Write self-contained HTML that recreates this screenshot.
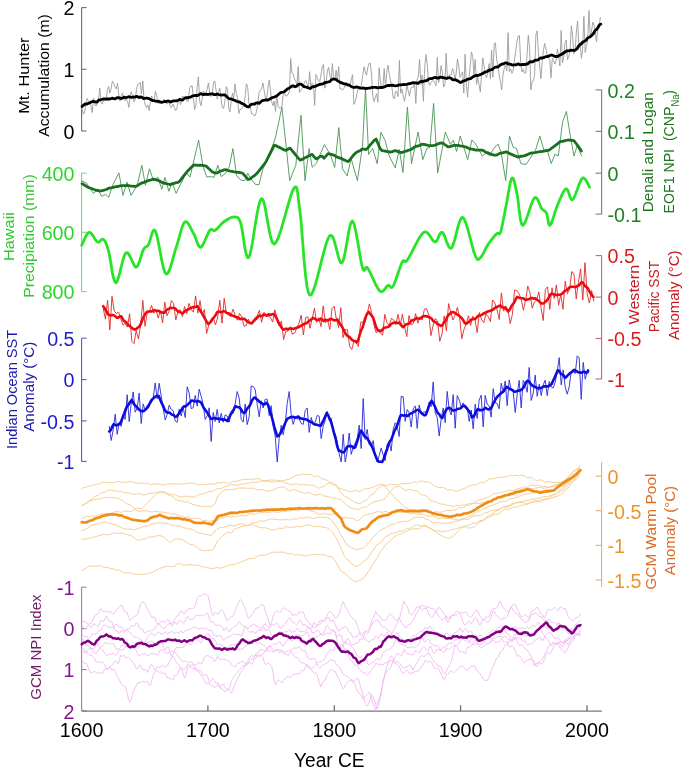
<!DOCTYPE html>
<html><head><meta charset="utf-8"><title>Figure</title>
<style>
html,body{margin:0;padding:0;background:#fff;}
body{width:685px;height:771px;overflow:hidden;position:relative;}
svg{position:absolute;left:0;top:0;display:block;font-family:"Liberation Sans",sans-serif;will-change:transform;}
</style></head><body>
<svg width="685" height="771" viewBox="0 0 685 771"><path d="M81.6 7.6V131" stroke="#6e6e6e" stroke-width="1.1" fill="none"/><path d="M81.6 7.6H86.6" stroke="#6e6e6e" stroke-width="1.1"/><path d="M81.6 69.3H86.6" stroke="#6e6e6e" stroke-width="1.1"/><path d="M81.6 131H86.6" stroke="#6e6e6e" stroke-width="1.1"/><text x="74.5" y="15.4" text-anchor="end" fill="#000000" font-size="19.7">2</text><text x="74.5" y="77.1" text-anchor="end" fill="#000000" font-size="19.7">1</text><text x="74.5" y="138.8" text-anchor="end" fill="#000000" font-size="19.7">0</text><path d="M601.6 89.9V214.1" stroke="#5e8e64" stroke-width="1.1" fill="none"/><path d="M601.6 89.9H595.6" stroke="#5e8e64" stroke-width="1.1"/><path d="M601.6 131.3H595.6" stroke="#5e8e64" stroke-width="1.1"/><path d="M601.6 173.2H595.6" stroke="#5e8e64" stroke-width="1.1"/><path d="M601.6 214.1H595.6" stroke="#5e8e64" stroke-width="1.1"/><text x="607.5" y="97.7" fill="#1e801e" font-size="19.7">0.2</text><text x="607.5" y="139.1" fill="#1e801e" font-size="19.7">0.1</text><text x="607.5" y="181.0" fill="#1e801e" font-size="19.7">0</text><text x="607.5" y="221.9" fill="#1e801e" font-size="19.7">-0.1</text><path d="M81.6 173.1V291.6" stroke="#6fe06f" stroke-width="1.1" fill="none"/><path d="M81.6 173.1H86.6" stroke="#6fe06f" stroke-width="1.1"/><path d="M81.6 232.3H86.6" stroke="#6fe06f" stroke-width="1.1"/><path d="M81.6 291.6H86.6" stroke="#6fe06f" stroke-width="1.1"/><text x="74.5" y="180.9" text-anchor="end" fill="#2ad62a" font-size="19.7">400</text><text x="74.5" y="240.1" text-anchor="end" fill="#2ad62a" font-size="19.7">600</text><text x="74.5" y="299.4" text-anchor="end" fill="#2ad62a" font-size="19.7">800</text><path d="M601.6 255.6V379" stroke="#c86470" stroke-width="1.1" fill="none"/><path d="M601.6 255.6H595.6" stroke="#c86470" stroke-width="1.1"/><path d="M601.6 297.1H595.6" stroke="#c86470" stroke-width="1.1"/><path d="M601.6 338.5H595.6" stroke="#c86470" stroke-width="1.1"/><path d="M601.6 379H595.6" stroke="#c86470" stroke-width="1.1"/><text x="607.5" y="263.4" fill="#dd1a1a" font-size="19.7">0.5</text><text x="607.5" y="304.9" fill="#dd1a1a" font-size="19.7">0</text><text x="607.5" y="346.3" fill="#dd1a1a" font-size="19.7">-0.5</text><text x="607.5" y="386.8" fill="#dd1a1a" font-size="19.7">-1</text><path d="M81.6 338.2V461.4" stroke="#5a5ac8" stroke-width="1.1" fill="none"/><path d="M81.6 338.2H86.6" stroke="#5a5ac8" stroke-width="1.1"/><path d="M81.6 379.6H86.6" stroke="#5a5ac8" stroke-width="1.1"/><path d="M81.6 420.9H86.6" stroke="#5a5ac8" stroke-width="1.1"/><path d="M81.6 461.4H86.6" stroke="#5a5ac8" stroke-width="1.1"/><text x="74.5" y="346.0" text-anchor="end" fill="#1c1cc8" font-size="19.7">0.5</text><text x="74.5" y="387.4" text-anchor="end" fill="#1c1cc8" font-size="19.7">0</text><text x="74.5" y="428.7" text-anchor="end" fill="#1c1cc8" font-size="19.7">-0.5</text><text x="74.5" y="469.2" text-anchor="end" fill="#1c1cc8" font-size="19.7">-1</text><path d="M601.6 462.2V587" stroke="#dcb27a" stroke-width="1.1" fill="none"/><path d="M601.6 476.2H595.6" stroke="#dcb27a" stroke-width="1.1"/><path d="M601.6 510.7H595.6" stroke="#dcb27a" stroke-width="1.1"/><path d="M601.6 545.4H595.6" stroke="#dcb27a" stroke-width="1.1"/><path d="M601.6 580H595.6" stroke="#dcb27a" stroke-width="1.1"/><text x="607.5" y="484.0" fill="#ee9428" font-size="19.7">0</text><text x="607.5" y="518.5" fill="#ee9428" font-size="19.7">-0.5</text><text x="607.5" y="553.2" fill="#ee9428" font-size="19.7">-1</text><text x="607.5" y="587.8" fill="#ee9428" font-size="19.7">-1.5</text><path d="M81.6 587.2V710.8" stroke="#a878a8" stroke-width="1.1" fill="none"/><path d="M81.6 587.2H86.6" stroke="#a878a8" stroke-width="1.1"/><path d="M81.6 628.6H86.6" stroke="#a878a8" stroke-width="1.1"/><path d="M81.6 669.6H86.6" stroke="#a878a8" stroke-width="1.1"/><path d="M81.6 710.8H86.6" stroke="#a878a8" stroke-width="1.1"/><text x="74.5" y="595.0" text-anchor="end" fill="#84148c" font-size="19.7">-1</text><text x="74.5" y="636.4" text-anchor="end" fill="#84148c" font-size="19.7">0</text><text x="74.5" y="677.4" text-anchor="end" fill="#84148c" font-size="19.7">1</text><text x="74.5" y="718.6" text-anchor="end" fill="#84148c" font-size="19.7">2</text><path d="M81.6 711.1H601.8" stroke="#777" stroke-width="1.3"/><text x="81.6" y="736.9" text-anchor="middle" fill="#000" font-size="19.7">1600</text><path d="M207.9 711H207.9" stroke="#707070"/><path d="M207.9 711V705.3" stroke="#707070" stroke-width="1.3"/><text x="207.9" y="736.9" text-anchor="middle" fill="#000" font-size="19.7">1700</text><path d="M334.3 711H334.3" stroke="#707070"/><path d="M334.3 711V705.3" stroke="#707070" stroke-width="1.3"/><text x="334.3" y="736.9" text-anchor="middle" fill="#000" font-size="19.7">1800</text><path d="M460.6 711H460.6" stroke="#707070"/><path d="M460.6 711V705.3" stroke="#707070" stroke-width="1.3"/><text x="460.6" y="736.9" text-anchor="middle" fill="#000" font-size="19.7">1900</text><path d="M587.0 711H587.0" stroke="#707070"/><path d="M587.0 711V705.3" stroke="#707070" stroke-width="1.3"/><text x="587.0" y="736.9" text-anchor="middle" fill="#000" font-size="19.7">2000</text><text x="329.35" y="766.6" text-anchor="middle" fill="#000" font-size="20" textLength="70.5" lengthAdjust="spacingAndGlyphs">Year CE</text><path d="M81.8 621.3L83.1 621.5L84.4 621.2L85.7 621.9L87.0 623.4L88.3 624.0L89.6 623.9L90.9 623.1L92.2 621.2L93.5 618.4L94.8 615.9L96.1 614.7L97.4 614.4L98.7 612.3L100.0 609.3L101.3 609.1L102.6 611.3L103.9 611.9L105.2 611.2L106.5 611.0L107.8 612.2L109.1 611.9L110.4 611.1L111.7 613.2L113.0 614.1L114.3 612.9L115.6 611.3L116.9 609.2L118.2 608.2L119.5 607.2L120.8 605.2L122.1 605.3L123.4 609.3L124.7 612.0L126.0 611.9L127.3 612.8L128.6 617.5L129.9 620.5L131.2 619.3L132.5 617.7L133.8 617.1L135.1 616.1L136.4 615.5L137.7 615.0L139.0 609.7L140.3 604.1L141.6 602.6L142.9 601.8L144.2 602.5L145.5 604.2L146.8 608.1L148.1 610.4L149.4 611.5L150.7 614.9L152.0 617.7L153.3 616.7L154.6 617.1L155.9 620.9L157.2 623.3L158.5 623.6L159.8 624.7L161.1 626.8L162.4 627.9L163.7 628.6L165.0 628.2L166.3 625.8L167.6 624.4L168.9 624.0L170.2 623.3L171.5 623.3L172.8 622.4L174.1 620.1L175.4 617.7L176.7 616.7L178.0 616.0L179.3 613.6L180.6 611.2L181.9 611.3L183.2 613.6L184.5 613.7L185.8 611.7L187.1 609.9L188.4 609.0L189.7 608.8L191.0 608.4L192.3 608.0L193.6 608.6L194.9 606.9L196.2 601.8L197.5 597.3L198.8 595.9L200.1 596.2L201.4 595.9L202.7 594.4L204.0 593.9L205.3 594.0L206.6 594.8L207.9 595.4L209.2 601.0L210.5 607.4L211.8 613.2L213.1 615.5L214.4 613.3L215.7 612.0L217.0 613.7L218.3 614.4L219.6 611.6L220.9 609.7L222.2 610.5L223.5 612.1L224.8 615.3L226.1 619.1L227.4 621.0L228.7 619.4L230.0 617.5L231.3 616.9L232.6 616.6L233.9 614.2L235.2 610.5L236.5 607.3L237.8 604.2L239.1 600.9L240.4 599.5L241.7 601.1L243.0 603.9L244.3 606.0L245.6 609.8L246.9 614.6L248.2 618.3L249.5 618.0L250.8 615.8L252.1 614.0L253.4 612.7L254.7 610.3L256.0 607.9L257.3 608.2L258.6 607.7L259.9 606.1L261.2 604.8L262.5 604.7L263.8 605.2L265.1 610.6L266.4 614.7L267.7 617.3L269.0 622.0L270.3 625.6L271.6 622.2L272.9 616.7L274.2 613.8L275.5 611.7L276.8 610.3L278.1 611.4L279.4 612.6L280.7 612.0L282.0 609.5L283.3 608.0L284.6 608.0L285.9 608.9L287.2 610.0L288.5 611.0L289.8 611.0L291.1 612.2L292.4 615.5L293.7 615.4L295.0 614.3L296.3 615.0L297.6 614.8L298.9 612.2L300.2 611.9L301.5 612.7L302.8 611.8L304.1 614.1L305.4 618.3L306.7 620.4L308.0 621.1L309.3 622.7L310.6 624.9L311.9 626.1L313.2 626.7L314.5 628.0L315.8 627.2L317.1 625.0L318.4 625.0L319.7 624.8L321.0 623.2L322.3 621.3L323.6 619.4L324.9 619.0L326.2 617.5L327.5 614.1L328.8 612.2L330.1 611.5L331.4 613.0L332.7 614.4L334.0 615.4L335.3 617.9L336.6 618.1L337.9 616.4L339.2 613.8L340.5 609.7L341.8 604.6L343.1 601.5L344.4 604.5L345.7 607.3L347.0 609.2L348.3 611.5L349.6 614.6L350.9 616.0L352.2 617.2L353.5 619.0L354.8 620.3L356.1 622.4L357.4 625.6L358.7 629.7L360.0 634.3L361.3 636.0L362.6 635.8L363.9 637.4L365.2 639.8L366.5 639.9L367.8 641.1L369.1 642.0L370.4 641.4L371.7 639.7L373.0 639.5L374.3 638.7L375.6 636.3L376.9 636.6L378.2 638.1L379.5 636.2L380.8 634.2L382.1 634.6L383.4 635.7L384.7 635.5L386.0 633.7L387.3 632.2L388.6 634.1L389.9 637.1L391.2 636.1L392.5 632.1L393.8 630.1L395.1 627.7L396.4 624.7L397.7 623.0L399.0 619.7L400.3 615.4L401.6 610.6L402.9 604.4L404.2 600.8L405.5 604.2L406.8 605.8L408.1 608.8L409.4 613.3L410.7 614.7L412.0 614.9L413.3 613.4L414.6 611.2L415.9 608.7L417.2 606.3L418.5 607.0L419.8 606.8L421.1 605.4L422.4 605.6L423.7 606.3L425.0 606.2L426.3 607.9L427.6 611.0L428.9 613.8L430.2 616.3L431.5 617.8L432.8 616.9L434.1 613.9L435.4 613.2L436.7 610.7L438.0 608.0L439.3 607.6L440.6 608.9L441.9 611.0L443.2 612.4L444.5 614.3L445.8 617.7L447.1 621.7L448.4 622.3L449.7 620.1L451.0 617.2L452.3 615.5L453.6 614.9L454.9 615.3L456.2 615.5L457.5 614.0L458.8 613.0L460.1 612.4L461.4 612.3L462.7 612.9L464.0 612.7L465.3 611.7L466.6 613.2L467.9 615.3L469.2 616.5L470.5 617.5L471.8 616.4L473.1 614.3L474.4 612.5L475.7 610.2L477.0 610.1L478.3 612.3L479.6 615.4L480.9 617.1L482.2 618.7L483.5 620.4L484.8 618.2L486.1 616.6L487.4 617.5L488.7 617.5L490.0 613.8L491.3 610.1L492.6 609.1L493.9 608.6L495.2 608.2L496.5 608.1L497.8 606.5L499.1 601.9L500.4 601.4L501.7 604.3L503.0 607.3L504.3 609.0L505.6 610.3L506.9 611.2L508.2 612.1L509.5 610.7L510.8 607.1L512.1 605.6L513.4 605.1L514.7 604.5L516.0 605.9L517.3 609.1L518.6 611.3L519.9 614.2L521.2 616.9L522.5 616.4L523.8 615.4L525.1 614.5L526.4 615.1L527.7 617.5L529.0 618.3L530.3 614.6L531.6 611.8L532.9 610.9L534.2 610.0L535.5 608.6L536.8 607.1L538.1 608.1L539.4 610.8L540.7 613.5L542.0 614.1L543.3 616.2L544.6 618.2L545.9 614.9L547.2 610.9L548.5 609.2L549.8 609.4L551.1 610.4L552.4 609.8L553.7 607.9L555.0 607.3L556.3 608.8L557.6 610.7L558.9 609.8L560.2 607.1L561.5 607.1L562.8 608.7L564.1 608.8L565.4 608.6L566.7 612.2L568.0 616.5L569.3 618.2L570.6 618.8L571.9 620.5L573.2 620.6L574.5 619.4L575.8 618.0L577.1 617.4L578.4 617.1L579.7 615.1L580.2 613.7" fill="none" stroke="#f2b8f2" stroke-width="0.9" stroke-linejoin="round" stroke-linecap="round"/><path d="M81.8 627.4L83.1 627.1L84.4 628.5L85.7 629.1L87.0 627.0L88.3 624.8L89.6 626.1L90.9 627.8L92.2 626.0L93.5 623.7L94.8 624.3L96.1 625.4L97.4 626.4L98.7 625.9L100.0 622.4L101.3 620.3L102.6 621.5L103.9 621.0L105.2 618.4L106.5 615.9L107.8 618.4L109.1 621.2L110.4 621.4L111.7 621.9L113.0 625.4L114.3 629.4L115.6 630.9L116.9 630.5L118.2 632.7L119.5 633.6L120.8 631.0L122.1 630.2L123.4 632.1L124.7 632.1L126.0 630.1L127.3 628.9L128.6 629.4L129.9 628.0L131.2 625.8L132.5 625.6L133.8 626.7L135.1 624.6L136.4 622.6L137.7 623.4L139.0 627.4L140.3 629.2L141.6 628.8L142.9 629.6L144.2 632.6L145.5 633.3L146.8 631.6L148.1 631.0L149.4 631.6L150.7 630.7L152.0 630.2L153.3 630.2L154.6 628.8L155.9 626.8L157.2 625.0L158.5 624.3L159.8 623.2L161.1 621.4L162.4 620.8L163.7 621.7L165.0 622.6L166.3 620.9L167.6 619.3L168.9 620.2L170.2 622.9L171.5 625.9L172.8 625.5L174.1 622.3L175.4 622.3L176.7 624.6L178.0 622.9L179.3 620.5L180.6 620.6L181.9 621.7L183.2 623.2L184.5 622.3L185.8 619.2L187.1 616.8L188.4 617.1L189.7 619.4L191.0 619.7L192.3 619.1L193.6 619.0L194.9 616.8L196.2 615.2L197.5 615.7L198.8 615.8L200.1 615.0L201.4 615.2L202.7 616.1L204.0 615.7L205.3 614.1L206.6 613.1L207.9 614.2L209.2 618.2L210.5 621.5L211.8 622.2L213.1 622.2L214.4 623.8L215.7 625.4L217.0 625.3L218.3 624.8L219.6 625.5L220.9 625.8L222.2 626.8L223.5 630.6L224.8 630.1L226.1 627.1L227.4 628.3L228.7 631.7L230.0 631.5L231.3 628.7L232.6 628.1L233.9 627.3L235.2 625.8L236.5 625.3L237.8 623.9L239.1 621.9L240.4 622.8L241.7 625.2L243.0 626.6L244.3 626.1L245.6 626.3L246.9 628.0L248.2 628.0L249.5 626.8L250.8 626.1L252.1 625.6L253.4 624.0L254.7 624.4L256.0 626.3L257.3 626.0L258.6 626.9L259.9 628.4L261.2 627.9L262.5 626.7L263.8 624.9L265.1 624.2L266.4 625.2L267.7 626.3L269.0 627.3L270.3 627.2L271.6 624.9L272.9 624.7L274.2 625.1L275.5 623.9L276.8 623.0L278.1 624.8L279.4 627.3L280.7 628.6L282.0 627.0L283.3 625.4L284.6 624.3L285.9 623.1L287.2 620.9L288.5 618.4L289.8 617.5L291.1 619.9L292.4 622.2L293.7 622.2L295.0 623.4L296.3 624.9L297.6 623.6L298.9 620.8L300.2 619.9L301.5 622.8L302.8 625.4L304.1 624.7L305.4 624.8L306.7 626.6L308.0 627.1L309.3 627.8L310.6 628.8L311.9 628.2L313.2 623.9L314.5 622.2L315.8 624.8L317.1 626.2L318.4 623.7L319.7 620.9L321.0 620.4L322.3 621.3L323.6 621.2L324.9 621.0L326.2 619.7L327.5 617.8L328.8 617.5L330.1 620.6L331.4 622.0L332.7 619.8L334.0 620.7L335.3 624.5L336.6 627.9L337.9 630.9L339.2 630.9L340.5 628.7L341.8 628.1L343.1 628.3L344.4 626.9L345.7 626.3L347.0 627.8L348.3 631.0L349.6 632.7L350.9 633.1L352.2 636.0L353.5 638.0L354.8 637.1L356.1 636.4L357.4 636.2L358.7 634.4L360.0 632.6L361.3 633.6L362.6 634.2L363.9 632.2L365.2 631.3L366.5 632.4L367.8 633.5L369.1 630.9L370.4 624.9L371.7 620.0L373.0 618.4L374.3 615.3L375.6 611.2L376.9 614.2L378.2 615.6L379.5 615.7L380.8 617.6L382.1 619.8L383.4 620.4L384.7 620.1L386.0 619.8L387.3 618.1L388.6 615.4L389.9 613.9L391.2 614.7L392.5 616.2L393.8 617.0L395.1 619.1L396.4 620.8L397.7 618.7L399.0 617.4L400.3 620.2L401.6 623.4L402.9 624.5L404.2 625.7L405.5 627.9L406.8 627.2L408.1 624.6L409.4 624.1L410.7 623.9L412.0 621.6L413.3 620.3L414.6 617.7L415.9 614.2L417.2 613.1L418.5 610.2L419.8 607.0L421.1 608.7L422.4 610.3L423.7 608.7L425.0 608.5L426.3 608.2L427.6 606.8L428.9 606.9L430.2 608.3L431.5 608.4L432.8 608.8L434.1 609.4L435.4 610.6L436.7 613.3L438.0 615.5L439.3 616.9L440.6 618.4L441.9 619.8L443.2 619.9L444.5 618.5L445.8 616.5L447.1 616.7L448.4 618.8L449.7 618.5L451.0 615.8L452.3 615.3L453.6 614.9L454.9 613.0L456.2 611.4L457.5 611.2L458.8 612.4L460.1 613.3L461.4 616.9L462.7 621.1L464.0 624.5L465.3 624.9L466.6 623.7L467.9 622.0L469.2 621.5L470.5 623.2L471.8 623.3L473.1 621.0L474.4 618.6L475.7 617.7L477.0 618.7L478.3 622.4L479.6 625.2L480.9 623.9L482.2 620.7L483.5 619.6L484.8 619.7L486.1 621.2L487.4 622.8L488.7 622.0L490.0 619.9L491.3 616.7L492.6 611.7L493.9 610.8L495.2 613.7L496.5 615.8L497.8 616.7L499.1 618.4L500.4 619.7L501.7 619.4L503.0 618.1L504.3 618.3L505.6 617.9L506.9 616.5L508.2 614.4L509.5 610.5L510.8 607.7L512.1 608.0L513.4 610.9L514.7 612.7L516.0 613.6L517.3 613.4L518.6 614.8L519.9 617.5L521.2 618.7L522.5 619.4L523.8 622.1L525.1 622.9L526.4 621.5L527.7 621.2L529.0 620.2L530.3 615.9L531.6 614.4L532.9 614.9L534.2 613.0L535.5 612.7L536.8 613.7L538.1 615.1L539.4 616.8L540.7 616.7L542.0 616.8L543.3 619.5L544.6 620.7L545.9 620.8L547.2 620.9L548.5 619.6L549.8 619.4L551.1 621.6L552.4 623.2L553.7 622.1L555.0 622.7L556.3 624.2L557.6 623.8L558.9 623.4L560.2 624.9L561.5 626.6L562.8 628.2L564.1 628.5L565.4 627.4L566.7 628.3L568.0 631.2L569.3 631.2L570.6 629.0L571.9 628.2L573.2 627.1L574.5 625.6L575.8 624.6L577.1 623.1L578.4 621.8L579.7 620.9L580.2 620.5" fill="none" stroke="#f2b8f2" stroke-width="0.9" stroke-linejoin="round" stroke-linecap="round"/><path d="M81.8 646.7L83.1 648.4L84.4 649.9L85.7 651.1L87.0 653.0L88.3 654.5L89.6 655.3L90.9 655.1L92.2 655.8L93.5 657.6L94.8 659.6L96.1 662.1L97.4 662.4L98.7 661.5L100.0 662.5L101.3 662.4L102.6 661.7L103.9 663.5L105.2 665.9L106.5 669.1L107.8 669.7L109.1 667.1L110.4 667.4L111.7 669.8L113.0 669.6L114.3 669.7L115.6 672.3L116.9 675.6L118.2 677.8L119.5 680.2L120.8 683.1L122.1 685.3L123.4 685.9L124.7 685.9L126.0 688.1L127.3 694.2L128.6 699.4L129.9 702.2L131.2 699.2L132.5 694.3L133.8 691.0L135.1 687.9L136.4 685.2L137.7 683.1L139.0 682.4L140.3 682.7L141.6 681.9L142.9 681.0L144.2 682.3L145.5 682.3L146.8 681.1L148.1 682.3L149.4 685.3L150.7 684.6L152.0 679.4L153.3 675.6L154.6 672.9L155.9 669.1L157.2 666.4L158.5 666.9L159.8 667.7L161.1 666.6L162.4 665.5L163.7 666.1L165.0 667.0L166.3 667.0L167.6 665.6L168.9 662.8L170.2 660.8L171.5 658.1L172.8 654.4L174.1 651.4L175.4 649.2L176.7 647.3L178.0 647.7L179.3 647.7L180.6 647.3L181.9 647.3L183.2 647.2L184.5 646.5L185.8 644.6L187.1 642.6L188.4 643.2L189.7 645.0L191.0 644.7L192.3 643.2L193.6 640.9L194.9 638.9L196.2 639.1L197.5 639.7L198.8 640.6L200.1 642.5L201.4 642.6L202.7 639.4L204.0 636.4L205.3 635.2L206.6 634.3L207.9 633.1L209.2 635.0L210.5 636.9L211.8 638.4L213.1 638.8L214.4 639.1L215.7 641.2L217.0 644.3L218.3 644.5L219.6 643.9L220.9 645.2L222.2 645.9L223.5 645.8L224.8 646.9L226.1 647.4L227.4 647.7L228.7 647.5L230.0 645.8L231.3 644.9L232.6 645.2L233.9 644.5L235.2 644.5L236.5 645.5L237.8 647.9L239.1 650.1L240.4 649.8L241.7 648.9L243.0 648.7L244.3 646.4L245.6 646.3L246.9 645.4L248.2 642.8L249.5 642.8L250.8 642.3L252.1 640.4L253.4 640.2L254.7 640.6L256.0 641.8L257.3 643.3L258.6 642.9L259.9 642.6L261.2 644.0L262.5 644.9L263.8 645.3L265.1 646.3L266.4 647.6L267.7 650.7L269.0 651.6L270.3 650.3L271.6 651.4L272.9 652.0L274.2 651.6L275.5 650.6L276.8 649.6L278.1 650.8L279.4 652.7L280.7 652.2L282.0 650.4L283.3 651.5L284.6 652.7L285.9 651.5L287.2 651.4L288.5 651.2L289.8 650.0L291.1 650.2L292.4 649.3L293.7 647.9L295.0 648.1L296.3 648.4L297.6 647.6L298.9 646.8L300.2 647.3L301.5 650.0L302.8 651.3L304.1 650.5L305.4 651.0L306.7 654.1L308.0 658.0L309.3 659.4L310.6 658.9L311.9 659.2L313.2 658.8L314.5 658.1L315.8 661.0L317.1 664.4L318.4 666.7L319.7 668.2L321.0 666.9L322.3 665.2L323.6 664.6L324.9 664.0L326.2 663.5L327.5 662.8L328.8 661.2L330.1 660.0L331.4 660.0L332.7 660.4L334.0 660.3L335.3 661.9L336.6 665.2L337.9 665.7L339.2 666.6L340.5 669.2L341.8 671.9L343.1 674.3L344.4 674.9L345.7 675.4L347.0 676.6L348.3 677.0L349.6 678.6L350.9 679.8L352.2 679.7L353.5 681.7L354.8 684.7L356.1 687.6L357.4 691.0L358.7 693.1L360.0 694.0L361.3 695.8L362.6 698.5L363.9 698.7L365.2 696.3L366.5 695.2L367.8 694.1L369.1 692.3L370.4 693.2L371.7 698.3L373.0 703.5L374.3 706.9L375.6 710.5L376.9 705.4L378.2 700.7L379.5 698.0L380.8 694.0L382.1 687.4L383.4 681.4L384.7 675.1L386.0 669.5L387.3 665.2L388.6 661.4L389.9 657.5L391.2 655.8L392.5 657.6L393.8 660.1L395.1 662.0L396.4 661.6L397.7 661.8L399.0 662.4L400.3 663.7L401.6 665.9L402.9 668.0L404.2 668.2L405.5 667.3L406.8 666.7L408.1 666.0L409.4 664.6L410.7 665.6L412.0 668.9L413.3 670.0L414.6 666.5L415.9 664.5L417.2 663.0L418.5 660.3L419.8 657.8L421.1 655.8L422.4 655.8L423.7 656.5L425.0 656.0L426.3 654.9L427.6 653.3L428.9 652.6L430.2 655.4L431.5 657.8L432.8 659.6L434.1 661.8L435.4 662.9L436.7 664.3L438.0 666.4L439.3 666.3L440.6 666.6L441.9 669.5L443.2 672.6L444.5 674.0L445.8 672.1L447.1 669.0L448.4 666.9L449.7 664.6L451.0 662.2L452.3 657.4L453.6 651.4L454.9 645.7L456.2 646.3L457.5 647.7L458.8 650.2L460.1 652.2L461.4 652.0L462.7 651.1L464.0 653.0L465.3 653.2L466.6 649.4L467.9 647.0L469.2 647.1L470.5 646.3L471.8 645.0L473.1 644.1L474.4 641.0L475.7 639.7L477.0 642.8L478.3 645.5L479.6 647.0L480.9 648.2L482.2 647.2L483.5 646.7L484.8 645.8L486.1 644.4L487.4 643.5L488.7 643.5L490.0 643.1L491.3 641.8L492.6 639.9L493.9 640.4L495.2 642.3L496.5 642.4L497.8 641.9L499.1 642.0L500.4 640.7L501.7 638.7L503.0 640.4L504.3 642.7L505.6 641.5L506.9 641.9L508.2 645.0L509.5 647.0L510.8 646.9L512.1 645.7L513.4 647.0L514.7 649.5L516.0 652.4L517.3 655.6L518.6 656.1L519.9 655.8L521.2 657.7L522.5 660.7L523.8 662.8L525.1 662.3L526.4 660.4L527.7 660.2L529.0 659.6L530.3 659.1L531.6 660.2L532.9 660.4L534.2 661.3L535.5 665.5L536.8 666.8L538.1 663.5L539.4 661.9L540.7 660.6L542.0 659.5L543.3 657.5L544.6 654.6L545.9 652.2L547.2 649.2L548.5 646.2L549.8 645.4L551.1 644.6L552.4 643.0L553.7 641.9L555.0 643.7L556.3 643.2L557.6 642.3L558.9 642.8L560.2 644.0L561.5 646.0L562.8 646.6L564.1 645.0L565.4 641.8L566.7 639.1L568.0 637.9L569.3 637.9L570.6 638.8L571.9 638.9L573.2 637.6L574.5 635.1L575.8 633.3L577.1 633.8L578.4 635.3L579.7 635.8L580.2 634.5" fill="none" stroke="#f2b8f2" stroke-width="0.9" stroke-linejoin="round" stroke-linecap="round"/><path d="M81.8 660.5L83.1 661.8L84.4 663.4L85.7 663.4L87.0 664.3L88.3 668.2L89.6 671.6L90.9 672.8L92.2 672.8L93.5 671.8L94.8 671.4L96.1 672.8L97.4 673.6L98.7 672.9L100.0 672.3L101.3 673.2L102.6 673.6L103.9 671.0L105.2 668.7L106.5 668.5L107.8 669.4L109.1 668.1L110.4 666.1L111.7 665.4L113.0 663.7L114.3 661.6L115.6 660.8L116.9 662.9L118.2 664.0L119.5 658.8L120.8 655.2L122.1 656.6L123.4 655.7L124.7 655.6L126.0 657.7L127.3 657.5L128.6 657.3L129.9 658.9L131.2 660.6L132.5 662.3L133.8 663.4L135.1 665.4L136.4 669.0L137.7 668.5L139.0 665.3L140.3 665.4L141.6 668.4L142.9 670.0L144.2 669.7L145.5 669.5L146.8 671.7L148.1 671.8L149.4 668.0L150.7 665.1L152.0 664.7L153.3 666.4L154.6 669.2L155.9 670.6L157.2 670.7L158.5 672.2L159.8 672.0L161.1 671.7L162.4 673.6L163.7 673.5L165.0 672.9L166.3 676.0L167.6 678.1L168.9 678.1L170.2 678.3L171.5 679.1L172.8 680.4L174.1 677.2L175.4 675.1L176.7 675.7L178.0 673.6L179.3 669.6L180.6 667.4L181.9 668.4L183.2 669.1L184.5 669.0L185.8 667.7L187.1 665.1L188.4 664.0L189.7 665.2L191.0 665.6L192.3 664.8L193.6 665.1L194.9 667.4L196.2 670.6L197.5 671.3L198.8 671.3L200.1 673.6L201.4 675.9L202.7 677.7L204.0 679.8L205.3 682.2L206.6 683.9L207.9 683.5L209.2 683.1L210.5 685.3L211.8 686.0L213.1 686.0L214.4 687.6L215.7 687.0L217.0 685.1L218.3 685.6L219.6 687.4L220.9 686.3L222.2 684.3L223.5 684.2L224.8 686.9L226.1 689.1L227.4 689.7L228.7 689.2L230.0 690.4L231.3 693.2L232.6 691.3L233.9 686.8L235.2 683.7L236.5 680.8L237.8 678.3L239.1 675.8L240.4 672.3L241.7 671.0L243.0 670.3L244.3 667.4L245.6 664.3L246.9 662.6L248.2 660.5L249.5 657.9L250.8 656.0L252.1 655.8L253.4 656.4L254.7 655.2L256.0 655.2L257.3 655.6L258.6 655.2L259.9 655.1L261.2 655.0L262.5 656.4L263.8 661.0L265.1 664.2L266.4 664.3L267.7 663.2L269.0 663.2L270.3 665.0L271.6 666.2L272.9 671.7L274.2 680.1L275.5 685.0L276.8 681.7L278.1 679.9L279.4 680.2L280.7 681.8L282.0 683.0L283.3 680.8L284.6 678.6L285.9 678.2L287.2 676.8L288.5 676.5L289.8 677.9L291.1 676.8L292.4 674.7L293.7 674.4L295.0 674.3L296.3 673.6L297.6 673.8L298.9 674.2L300.2 672.8L301.5 670.7L302.8 670.8L304.1 670.4L305.4 666.5L306.7 664.4L308.0 665.3L309.3 668.1L310.6 669.3L311.9 670.2L313.2 672.3L314.5 673.1L315.8 672.8L317.1 675.0L318.4 679.1L319.7 683.9L321.0 686.7L322.3 682.7L323.6 681.2L324.9 680.8L326.2 677.2L327.5 674.4L328.8 672.8L330.1 670.3L331.4 669.0L332.7 670.3L334.0 671.8L335.3 671.6L336.6 674.5L337.9 677.7L339.2 679.6L340.5 682.8L341.8 686.3L343.1 688.7L344.4 687.5L345.7 684.6L347.0 682.6L348.3 681.8L349.6 680.6L350.9 680.1L352.2 681.7L353.5 681.9L354.8 680.9L356.1 679.0L357.4 678.0L358.7 679.0L360.0 684.9L361.3 689.7L362.6 693.7L363.9 698.9L365.2 704.3L366.5 706.5L367.8 704.8L369.1 702.5L370.4 699.1L371.7 694.7L373.0 696.6L374.3 699.8L375.6 704.2L376.9 708.9L378.2 706.8L379.5 701.0L380.8 695.1L382.1 687.4L383.4 679.3L384.7 675.3L386.0 672.3L387.3 670.3L388.6 669.4L389.9 668.6L391.2 666.1L392.5 662.7L393.8 659.3L395.1 657.4L396.4 655.0L397.7 653.3L399.0 654.0L400.3 655.6L401.6 655.4L402.9 652.2L404.2 649.4L405.5 651.5L406.8 653.6L408.1 654.0L409.4 654.2L410.7 654.5L412.0 654.7L413.3 654.6L414.6 652.6L415.9 650.2L417.2 651.6L418.5 653.0L419.8 652.0L421.1 649.9L422.4 647.2L423.7 646.3L425.0 647.6L426.3 649.8L427.6 651.0L428.9 648.5L430.2 646.0L431.5 648.2L432.8 651.6L434.1 653.4L435.4 652.2L436.7 649.8L438.0 649.3L439.3 650.4L440.6 650.3L441.9 648.8L443.2 647.1L444.5 646.5L445.8 647.2L447.1 645.8L448.4 643.3L449.7 643.0L451.0 643.4L452.3 642.6L453.6 641.6L454.9 640.0L456.2 639.6L457.5 639.3L458.8 638.0L460.1 636.9L461.4 637.6L462.7 638.7L464.0 640.2L465.3 640.2L466.6 641.1L467.9 642.6L469.2 641.9L470.5 640.0L471.8 638.7L473.1 637.2L474.4 636.0L475.7 638.6L477.0 640.8L478.3 639.5L479.6 638.6L480.9 640.7L482.2 642.6L483.5 642.4L484.8 639.8L486.1 638.8L487.4 638.8L488.7 636.9L490.0 634.6L491.3 634.6L492.6 635.1L493.9 634.1L495.2 633.2L496.5 632.1L497.8 630.8L499.1 632.6L500.4 634.6L501.7 631.8L503.0 628.8L504.3 629.4L505.6 632.5L506.9 633.3L508.2 633.7L509.5 635.2L510.8 639.5L512.1 641.1L513.4 636.7L514.7 634.4L516.0 634.8L517.3 634.3L518.6 634.8L519.9 634.0L521.2 631.6L522.5 631.0L523.8 632.4L525.1 635.3L526.4 636.6L527.7 634.8L529.0 634.3L530.3 634.7L531.6 634.0L532.9 633.7L534.2 632.9L535.5 632.3L536.8 632.1L538.1 629.7L539.4 627.7L540.7 629.3L542.0 632.6L543.3 634.7L544.6 636.2L545.9 637.8L547.2 638.7L548.5 640.0L549.8 643.5L551.1 645.5L552.4 644.6L553.7 643.4L555.0 643.7L556.3 643.8L557.6 643.8L558.9 645.7L560.2 647.9L561.5 649.0L562.8 650.6L564.1 652.4L565.4 652.5L566.7 650.2L568.0 648.1L569.3 645.0L570.6 642.9L571.9 641.8L573.2 640.2L574.5 637.9L575.8 636.1L577.1 634.7L578.4 633.1L579.7 632.5L580.2 633.6" fill="none" stroke="#f2b8f2" stroke-width="0.9" stroke-linejoin="round" stroke-linecap="round"/><path d="M81.8 650.0L83.1 650.8L84.4 653.1L85.7 652.7L87.0 650.9L88.3 649.9L89.6 648.7L90.9 648.4L92.2 648.7L93.5 649.0L94.8 647.6L96.1 644.2L97.4 643.4L98.7 646.0L100.0 647.9L101.3 648.8L102.6 650.1L103.9 652.1L105.2 653.5L106.5 655.8L107.8 655.6L109.1 654.2L110.4 654.5L111.7 654.0L113.0 652.9L114.3 654.0L115.6 655.2L116.9 654.3L118.2 651.9L119.5 649.8L120.8 649.6L122.1 650.3L123.4 649.5L124.7 647.8L126.0 646.5L127.3 645.8L128.6 646.3L129.9 647.3L131.2 647.1L132.5 647.0L133.8 647.9L135.1 648.6L136.4 650.5L137.7 654.4L139.0 656.4L140.3 655.1L141.6 654.1L142.9 654.3L144.2 653.9L145.5 653.4L146.8 655.0L148.1 656.1L149.4 654.6L150.7 653.8L152.0 653.4L153.3 653.3L154.6 653.9L155.9 654.6L157.2 654.7L158.5 653.3L159.8 651.0L161.1 649.6L162.4 650.0L163.7 651.3L165.0 652.7L166.3 653.4L167.6 652.9L168.9 652.4L170.2 651.5L171.5 650.5L172.8 651.6L174.1 652.7L175.4 652.6L176.7 654.2L178.0 656.4L179.3 658.0L180.6 659.1L181.9 660.7L183.2 661.8L184.5 661.4L185.8 660.8L187.1 661.9L188.4 662.8L189.7 662.2L191.0 661.3L192.3 662.9L193.6 664.7L194.9 665.1L196.2 664.6L197.5 663.4L198.8 662.6L200.1 663.4L201.4 664.1L202.7 662.0L204.0 658.0L205.3 656.4L206.6 655.7L207.9 655.4L209.2 656.6L210.5 657.3L211.8 657.0L213.1 658.7L214.4 661.5L215.7 660.5L217.0 656.9L218.3 656.6L219.6 659.4L220.9 659.9L222.2 659.2L223.5 659.4L224.8 659.3L226.1 659.8L227.4 661.0L228.7 660.9L230.0 662.0L231.3 664.6L232.6 665.7L233.9 666.6L235.2 667.0L236.5 664.9L237.8 663.0L239.1 663.0L240.4 662.5L241.7 661.2L243.0 661.4L244.3 662.5L245.6 663.2L246.9 663.9L248.2 663.3L249.5 662.5L250.8 664.0L252.1 664.1L253.4 660.9L254.7 658.6L256.0 658.2L257.3 656.5L258.6 656.2L259.9 656.6L261.2 655.0L262.5 653.8L263.8 653.3L265.1 651.6L266.4 650.7L267.7 648.7L269.0 645.9L270.3 646.0L271.6 648.2L272.9 650.0L274.2 650.8L275.5 650.6L276.8 649.7L278.1 649.9L279.4 649.7L280.7 649.6L282.0 651.4L283.3 653.9L284.6 654.0L285.9 653.9L287.2 654.9L288.5 655.4L289.8 653.1L291.1 651.4L292.4 653.3L293.7 655.7L295.0 657.2L296.3 657.7L297.6 657.4L298.9 658.7L300.2 661.7L301.5 663.0L302.8 662.8L304.1 663.1L305.4 664.2L306.7 665.8L308.0 667.2L309.3 667.9L310.6 667.7L311.9 668.5L313.2 667.7L314.5 666.0L315.8 664.9L317.1 663.6L318.4 662.2L319.7 662.2L321.0 661.4L322.3 660.7L323.6 660.1L324.9 658.3L326.2 655.2L327.5 653.4L328.8 651.3L330.1 649.8L331.4 649.3L332.7 650.7L334.0 650.3L335.3 645.7L336.6 644.9L337.9 649.0L339.2 648.7L340.5 646.7L341.8 646.8L343.1 645.6L344.4 642.2L345.7 641.5L347.0 644.1L348.3 644.5L349.6 643.8L350.9 645.6L352.2 647.5L353.5 648.4L354.8 651.0L356.1 654.0L357.4 655.7L358.7 657.3L360.0 657.3L361.3 656.6L362.6 658.3L363.9 659.0L365.2 658.4L366.5 659.8L367.8 663.8L369.1 665.1L370.4 663.7L371.7 662.9L373.0 662.8L374.3 661.2L375.6 659.6L376.9 658.2L378.2 659.3L379.5 660.2L380.8 658.5L382.1 655.1L383.4 652.6L384.7 651.7L386.0 650.5L387.3 649.1L388.6 649.9L389.9 649.2L391.2 647.7L392.5 646.7L393.8 645.0L395.1 641.9L396.4 639.1L397.7 639.3L399.0 642.7L400.3 642.9L401.6 643.7L402.9 645.7L404.2 645.1L405.5 645.5L406.8 647.4L408.1 647.6L409.4 647.4L410.7 647.3L412.0 646.6L413.3 647.3L414.6 647.8L415.9 646.7L417.2 645.5L418.5 645.0L419.8 642.1L421.1 638.1L422.4 637.9L423.7 640.9L425.0 642.0L426.3 640.5L427.6 639.5L428.9 639.7L430.2 642.4L431.5 644.3L432.8 645.0L434.1 645.5L435.4 645.8L436.7 645.4L438.0 645.7L439.3 647.8L440.6 650.3L441.9 651.2L443.2 652.5L444.5 652.3L445.8 649.0L447.1 648.3L448.4 649.4L449.7 649.0L451.0 647.6L452.3 646.4L453.6 645.2L454.9 645.2L456.2 645.6L457.5 645.2L458.8 643.3L460.1 641.4L461.4 639.5L462.7 638.0L464.0 636.9L465.3 638.0L466.6 639.3L467.9 639.8L469.2 641.0L470.5 642.7L471.8 643.6L473.1 644.5L474.4 644.7L475.7 643.3L477.0 642.7L478.3 643.8L479.6 645.0L480.9 644.9L482.2 642.9L483.5 641.4L484.8 641.3L486.1 642.8L487.4 643.8L488.7 643.2L490.0 641.7L491.3 640.0L492.6 638.4L493.9 638.4L495.2 638.5L496.5 637.4L497.8 636.5L499.1 636.7L500.4 636.5L501.7 637.2L503.0 637.4L504.3 636.3L505.6 636.0L506.9 637.7L508.2 639.5L509.5 640.1L510.8 639.7L512.1 640.5L513.4 640.1L514.7 639.2L516.0 638.7L517.3 637.6L518.6 638.2L519.9 638.9L521.2 639.0L522.5 641.2L523.8 641.5L525.1 640.7L526.4 643.7L527.7 645.3L529.0 644.3L530.3 643.7L531.6 643.9L532.9 643.4L534.2 641.7L535.5 639.7L536.8 639.3L538.1 638.3L539.4 636.8L540.7 637.4L542.0 640.5L543.3 640.2L544.6 636.5L545.9 634.7L547.2 633.6L548.5 632.2L549.8 632.3L551.1 634.0L552.4 634.9L553.7 636.7L555.0 638.8L556.3 638.6L557.6 637.4L558.9 638.7L560.2 640.6L561.5 642.7L562.8 643.4L564.1 640.7L565.4 639.7L566.7 642.6L568.0 644.6L569.3 642.9L570.6 639.3L571.9 637.9L573.2 637.1L574.5 634.6L575.8 633.5L577.1 634.5L578.4 633.4L579.7 630.7L580.2 630.5" fill="none" stroke="#f2b8f2" stroke-width="0.9" stroke-linejoin="round" stroke-linecap="round"/><path d="M81.8 641.0L83.1 639.3L84.4 642.1L85.7 645.2L87.0 644.7L88.3 646.3L89.6 648.0L90.9 647.7L92.2 650.0L93.5 652.6L94.8 653.1L96.1 653.2L97.4 651.7L98.7 649.4L100.0 647.7L101.3 646.4L102.6 646.3L103.9 644.5L105.2 642.4L106.5 643.0L107.8 644.2L109.1 643.1L110.4 643.5L111.7 644.0L113.0 643.2L114.3 644.9L115.6 648.5L116.9 649.4L118.2 648.6L119.5 648.3L120.8 647.0L122.1 645.4L123.4 645.6L124.7 646.4L126.0 646.2L127.3 645.0L128.6 643.4L129.9 644.4L131.2 647.2L132.5 647.9L133.8 645.7L135.1 645.1L136.4 647.2L137.7 648.4L139.0 646.4L140.3 644.2L141.6 642.7L142.9 642.5L144.2 643.7L145.5 644.6L146.8 643.1L148.1 642.1L149.4 642.2L150.7 641.5L152.0 641.1L153.3 642.9L154.6 643.4L155.9 643.8L157.2 645.1L158.5 644.5L159.8 643.0L161.1 642.3L162.4 643.5L163.7 648.0L165.0 650.2L166.3 648.1L167.6 646.6L168.9 648.0L170.2 652.7L171.5 656.3L172.8 656.5L174.1 657.5L175.4 660.7L176.7 662.7L178.0 664.1L179.3 665.7L180.6 668.0L181.9 670.1L183.2 673.4L184.5 678.1L185.8 675.9L187.1 669.5L188.4 666.2L189.7 666.7L191.0 667.8L192.3 668.1L193.6 669.0L194.9 668.9L196.2 668.3L197.5 669.2L198.8 670.6L200.1 670.3L201.4 671.5L202.7 674.1L204.0 675.8L205.3 674.8L206.6 674.4L207.9 677.9L209.2 681.9L210.5 681.7L211.8 679.3L213.1 678.5L214.4 680.3L215.7 683.0L217.0 683.3L218.3 682.8L219.6 685.5L220.9 688.8L222.2 689.2L223.5 689.7L224.8 692.0L226.1 690.6L227.4 688.9L228.7 689.3L230.0 686.8L231.3 681.6L232.6 678.4L233.9 676.6L235.2 674.9L236.5 673.6L237.8 671.7L239.1 670.4L240.4 669.0L241.7 667.5L243.0 665.6L244.3 665.1L245.6 665.7L246.9 665.2L248.2 662.9L249.5 661.3L250.8 659.6L252.1 658.5L253.4 658.8L254.7 657.1L256.0 653.6L257.3 652.9L258.6 652.8L259.9 649.9L261.2 649.1L262.5 650.1L263.8 650.5L265.1 650.9L266.4 650.1L267.7 648.0L269.0 646.9L270.3 646.3L271.6 645.8L272.9 644.4L274.2 643.4L275.5 644.2L276.8 644.4L278.1 642.6L279.4 641.2L280.7 642.9L282.0 645.8L283.3 646.1L284.6 643.5L285.9 641.7L287.2 640.1L288.5 638.5L289.8 638.7L291.1 640.5L292.4 641.0L293.7 638.8L295.0 636.1L296.3 635.3L297.6 635.0L298.9 635.0L300.2 635.3L301.5 636.2L302.8 635.5L304.1 634.7L305.4 634.1L306.7 631.9L308.0 632.8L309.3 637.3L310.6 640.1L311.9 640.6L313.2 639.2L314.5 637.9L315.8 637.7L317.1 636.7L318.4 635.9L319.7 634.8L321.0 634.6L322.3 635.7L323.6 634.9L324.9 634.2L326.2 633.9L327.5 632.9L328.8 633.4L330.1 634.2L331.4 632.0L332.7 630.0L334.0 630.4L335.3 633.7L336.6 637.1L337.9 636.0L339.2 634.3L340.5 635.0L341.8 637.6L343.1 641.3L344.4 643.5L345.7 641.8L347.0 639.2L348.3 638.8L349.6 641.1L350.9 643.3L352.2 644.4L353.5 644.9L354.8 644.2L356.1 643.2L357.4 643.3L358.7 642.2L360.0 639.1L361.3 639.0L362.6 639.8L363.9 636.6L365.2 632.5L366.5 631.0L367.8 630.6L369.1 629.0L370.4 627.0L371.7 625.3L373.0 622.6L374.3 620.7L375.6 620.5L376.9 620.5L378.2 619.8L379.5 622.0L380.8 624.7L382.1 627.0L383.4 627.6L384.7 627.2L386.0 628.3L387.3 630.4L388.6 631.0L389.9 631.3L391.2 633.5L392.5 635.9L393.8 636.4L395.1 634.9L396.4 632.9L397.7 633.4L399.0 635.8L400.3 637.2L401.6 638.8L402.9 639.1L404.2 639.9L405.5 643.1L406.8 643.0L408.1 639.5L409.4 639.3L410.7 639.3L412.0 636.6L413.3 635.4L414.6 636.4L415.9 635.8L417.2 633.7L418.5 632.4L419.8 631.9L421.1 631.7L422.4 631.3L423.7 629.6L425.0 627.5L426.3 627.9L427.6 628.9L428.9 626.7L430.2 626.3L431.5 628.3L432.8 630.0L434.1 631.2L435.4 632.1L436.7 632.7L438.0 633.6L439.3 634.3L440.6 634.0L441.9 634.1L443.2 636.0L444.5 635.6L445.8 633.1L447.1 633.1L448.4 634.6L449.7 635.8L451.0 636.2L452.3 635.3L453.6 633.7L454.9 632.6L456.2 631.9L457.5 631.7L458.8 630.1L460.1 628.2L461.4 630.1L462.7 632.3L464.0 630.0L465.3 628.1L466.6 629.5L467.9 632.0L469.2 632.3L470.5 630.8L471.8 632.6L473.1 635.7L474.4 635.2L475.7 634.8L477.0 636.1L478.3 636.2L479.6 635.4L480.9 635.4L482.2 636.0L483.5 638.0L484.8 637.8L486.1 636.3L487.4 635.1L488.7 633.5L490.0 632.1L491.3 631.3L492.6 630.4L493.9 629.8L495.2 630.5L496.5 629.8L497.8 627.2L499.1 626.9L500.4 627.7L501.7 626.5L503.0 626.2L504.3 627.3L505.6 627.9L506.9 628.1L508.2 627.8L509.5 627.6L510.8 628.0L512.1 628.5L513.4 627.3L514.7 626.5L516.0 627.5L517.3 628.4L518.6 628.1L519.9 628.0L521.2 627.9L522.5 627.9L523.8 628.3L525.1 629.0L526.4 627.9L527.7 627.4L529.0 628.7L530.3 628.0L531.6 625.9L532.9 625.3L534.2 625.8L535.5 626.2L536.8 624.7L538.1 622.1L539.4 623.1L540.7 625.5L542.0 626.2L543.3 625.7L544.6 626.0L545.9 627.4L547.2 629.0L548.5 628.8L549.8 628.1L551.1 629.0L552.4 630.2L553.7 629.3L555.0 628.6L556.3 628.2L557.6 624.8L558.9 622.6L560.2 625.1L561.5 628.0L562.8 628.1L564.1 627.6L565.4 628.7L566.7 631.0L568.0 633.5L569.3 634.2L570.6 631.6L571.9 629.9L573.2 630.0L574.5 629.8L575.8 628.9L577.1 629.1L578.4 628.4L579.7 625.5L580.2 624.3" fill="none" stroke="#f2b8f2" stroke-width="0.9" stroke-linejoin="round" stroke-linecap="round"/><path d="M81.8 633.4L83.1 635.4L84.4 637.5L85.7 637.0L87.0 636.4L88.3 637.0L89.6 637.7L90.9 636.6L92.2 634.1L93.5 633.9L94.8 634.6L96.1 633.8L97.4 632.8L98.7 630.6L100.0 630.3L101.3 629.8L102.6 626.5L103.9 624.8L105.2 625.4L106.5 625.8L107.8 627.2L109.1 627.4L110.4 627.1L111.7 627.7L113.0 627.6L114.3 626.2L115.6 624.5L116.9 624.5L118.2 626.2L119.5 627.2L120.8 627.1L122.1 627.5L123.4 628.9L124.7 630.4L126.0 630.4L127.3 629.6L128.6 630.8L129.9 633.1L131.2 633.9L132.5 635.0L133.8 636.5L135.1 637.3L136.4 636.8L137.7 637.5L139.0 638.9L140.3 638.6L141.6 639.7L142.9 643.3L144.2 643.8L145.5 640.9L146.8 638.5L148.1 636.5L149.4 635.1L150.7 633.5L152.0 633.2L153.3 635.2L154.6 635.7L155.9 634.2L157.2 633.1L158.5 632.0L159.8 632.4L161.1 634.2L162.4 634.6L163.7 633.0L165.0 631.6L166.3 633.0L167.6 633.8L168.9 633.0L170.2 632.5L171.5 631.4L172.8 632.0L174.1 633.9L175.4 632.8L176.7 632.0L178.0 633.4L179.3 633.1L180.6 631.2L181.9 631.9L183.2 633.0L184.5 631.6L185.8 630.4L187.1 630.3L188.4 630.0L189.7 629.3L191.0 628.7L192.3 628.1L193.6 627.4L194.9 627.2L196.2 627.6L197.5 628.5L198.8 628.9L200.1 628.2L201.4 628.4L202.7 628.8L204.0 628.4L205.3 628.1L206.6 628.6L207.9 629.7L209.2 630.6L210.5 630.4L211.8 630.7L213.1 633.1L214.4 635.5L215.7 635.7L217.0 636.0L218.3 636.5L219.6 635.4L220.9 636.0L222.2 638.6L223.5 640.2L224.8 639.0L226.1 637.6L227.4 637.2L228.7 637.5L230.0 637.0L231.3 635.3L232.6 634.1L233.9 633.8L235.2 634.3L236.5 635.0L237.8 634.6L239.1 634.1L240.4 635.6L241.7 635.9L243.0 632.6L244.3 628.3L245.6 626.9L246.9 628.4L248.2 630.4L249.5 631.8L250.8 632.4L252.1 631.5L253.4 631.6L254.7 633.3L256.0 633.0L257.3 631.2L258.6 629.9L259.9 630.4L261.2 630.7L262.5 628.2L263.8 626.9L265.1 630.2L266.4 630.9L267.7 628.9L269.0 629.0L270.3 632.5L271.6 636.0L272.9 636.4L274.2 634.6L275.5 634.4L276.8 635.1L278.1 633.5L279.4 631.4L280.7 631.9L282.0 633.9L283.3 633.5L284.6 631.9L285.9 631.4L287.2 631.9L288.5 630.5L289.8 629.7L291.1 631.8L292.4 632.3L293.7 631.4L295.0 631.3L296.3 629.7L297.6 628.1L298.9 629.8L300.2 632.0L301.5 631.6L302.8 631.0L304.1 632.3L305.4 631.3L306.7 628.7L308.0 627.7L309.3 628.1L310.6 630.0L311.9 632.4L313.2 632.9L314.5 632.4L315.8 631.6L317.1 630.4L318.4 630.5L319.7 632.6L321.0 633.9L322.3 634.1L323.6 633.5L324.9 630.6L326.2 626.4L327.5 625.5L328.8 627.9L330.1 629.8L331.4 630.2L332.7 630.8L334.0 630.9L335.3 631.7L336.6 638.3L337.9 644.4L339.2 645.7L340.5 645.1L341.8 644.5L343.1 646.0L344.4 648.6L345.7 649.5L347.0 650.6L348.3 654.4L349.6 658.9L350.9 660.6L352.2 661.2L353.5 663.4L354.8 665.5L356.1 665.3L357.4 665.5L358.7 667.9L360.0 669.7L361.3 670.7L362.6 672.2L363.9 672.7L365.2 673.2L366.5 674.6L367.8 675.4L369.1 673.5L370.4 671.3L371.7 669.3L373.0 668.5L374.3 666.5L375.6 663.1L376.9 663.3L378.2 665.0L379.5 664.8L380.8 664.1L382.1 664.6L383.4 664.6L384.7 663.0L386.0 662.4L387.3 663.0L388.6 662.2L389.9 661.0L391.2 660.3L392.5 660.8L393.8 662.8L395.1 664.1L396.4 663.7L397.7 664.3L399.0 666.3L400.3 669.1L401.6 671.9L402.9 673.0L404.2 672.6L405.5 671.2L406.8 669.9L408.1 671.4L409.4 673.7L410.7 673.5L412.0 672.6L413.3 672.6L414.6 671.7L415.9 671.5L417.2 671.2L418.5 670.9L419.8 669.5L421.1 667.3L422.4 665.6L423.7 663.8L425.0 660.6L426.3 660.6L427.6 662.5L428.9 661.6L430.2 661.0L431.5 662.1L432.8 664.6L434.1 667.9L435.4 669.0L436.7 668.5L438.0 668.4L439.3 669.9L440.6 672.7L441.9 675.5L443.2 679.0L444.5 679.4L445.8 675.6L447.1 674.2L448.4 674.3L449.7 672.2L451.0 670.5L452.3 672.0L453.6 672.7L454.9 671.6L456.2 670.0L457.5 669.9L458.8 668.6L460.1 666.7L461.4 666.4L462.7 666.1L464.0 667.2L465.3 669.4L466.6 670.3L467.9 669.8L469.2 668.4L470.5 666.6L471.8 665.8L473.1 666.1L474.4 665.5L475.7 668.2L477.0 670.8L478.3 671.9L479.6 673.4L480.9 675.1L482.2 676.9L483.5 679.7L484.8 680.7L486.1 680.1L487.4 680.4L488.7 678.0L490.0 674.8L491.3 670.8L492.6 667.4L493.9 664.5L495.2 661.2L496.5 658.6L497.8 657.4L499.1 654.9L500.4 651.9L501.7 650.8L503.0 650.2L504.3 646.7L505.6 644.6L506.9 644.9L508.2 643.2L509.5 640.7L510.8 641.0L512.1 641.5L513.4 639.1L514.7 636.9L516.0 637.6L517.3 642.0L518.6 644.8L519.9 645.5L521.2 644.8L522.5 645.2L523.8 646.8L525.1 648.9L526.4 649.9L527.7 650.6L529.0 652.8L530.3 655.2L531.6 656.9L532.9 661.5L534.2 665.9L535.5 664.7L536.8 662.5L538.1 662.5L539.4 663.3L540.7 663.9L542.0 663.2L543.3 662.3L544.6 658.9L545.9 654.4L547.2 652.7L548.5 653.1L549.8 653.5L551.1 652.6L552.4 649.4L553.7 645.9L555.0 645.2L556.3 644.7L557.6 643.5L558.9 642.6L560.2 642.0L561.5 642.0L562.8 642.8L564.1 642.6L565.4 641.5L566.7 640.9L568.0 640.1L569.3 638.3L570.6 635.9L571.9 636.1L573.2 637.3L574.5 635.6L575.8 633.6L577.1 633.8L578.4 634.6L579.7 635.0L580.2 634.3" fill="none" stroke="#f2b8f2" stroke-width="0.9" stroke-linejoin="round" stroke-linecap="round"/><path d="M81.7 644.3L83.0 643.1L84.3 642.6L85.6 642.3L86.9 641.3L88.2 640.7L89.5 641.7L90.8 642.6L92.1 643.8L93.4 644.4L94.7 644.2L96.0 641.9L97.3 640.3L98.6 639.3L99.9 637.4L101.2 636.6L102.5 636.4L103.8 636.3L105.1 635.5L106.4 634.4L107.7 635.4L109.0 636.4L110.3 636.3L111.6 637.1L112.9 638.3L114.2 638.3L115.5 638.4L116.8 638.8L118.1 638.3L119.4 639.0L120.7 639.5L122.0 638.8L123.3 640.0L124.6 642.3L125.9 643.0L127.2 644.1L128.5 646.5L129.8 647.2L131.1 647.2L132.4 646.2L133.7 646.9L135.0 646.3L136.3 644.4L137.6 643.4L138.9 643.3L140.2 643.0L141.5 642.7L142.8 643.9L144.1 643.9L145.4 644.2L146.7 644.9L148.0 645.7L149.3 646.5L150.6 645.4L151.9 646.0L153.2 645.7L154.5 644.4L155.8 644.7L157.1 644.0L158.4 642.4L159.7 641.8L161.0 641.2L162.3 641.3L163.6 641.1L164.9 641.0L166.2 640.7L167.5 639.5L168.8 639.4L170.1 639.8L171.4 640.0L172.7 640.3L174.0 640.0L175.3 639.6L176.6 640.7L177.9 640.7L179.2 640.4L180.5 641.4L181.8 641.7L183.1 641.0L184.4 640.2L185.7 641.1L187.0 641.8L188.3 641.0L189.6 640.3L190.9 640.2L192.2 640.3L193.5 639.1L194.8 637.9L196.1 637.5L197.4 637.1L198.7 636.3L200.0 635.6L201.3 635.9L202.6 637.1L203.9 637.2L205.2 637.6L206.5 638.8L207.8 639.1L209.1 639.4L210.4 641.5L211.7 644.3L213.0 646.1L214.3 647.8L215.6 648.6L216.9 648.5L218.2 648.7L219.5 648.4L220.8 649.3L222.1 650.0L223.4 648.7L224.7 648.4L226.0 649.1L227.3 649.7L228.6 649.1L229.9 649.1L231.2 649.0L232.5 648.3L233.8 649.2L235.1 649.4L236.4 647.4L237.7 645.0L239.0 643.9L240.3 642.0L241.6 640.0L242.9 639.3L244.2 640.5L245.5 641.5L246.8 641.9L248.1 643.0L249.4 643.0L250.7 642.5L252.0 642.2L253.3 641.0L254.6 640.6L255.9 640.2L257.2 639.9L258.5 639.1L259.8 638.3L261.1 638.0L262.4 637.0L263.7 636.0L265.0 637.0L266.3 638.0L267.6 637.4L268.9 637.4L270.2 638.9L271.5 639.0L272.8 637.6L274.1 636.4L275.4 635.7L276.7 635.3L278.0 634.1L279.3 633.5L280.6 633.7L281.9 633.6L283.2 635.2L284.5 635.5L285.8 635.6L287.1 636.3L288.4 636.4L289.7 637.8L291.0 637.9L292.3 636.8L293.6 637.7L294.9 637.9L296.2 637.0L297.5 637.7L298.8 637.5L300.1 638.3L301.4 640.5L302.7 641.3L304.0 641.8L305.3 642.5L306.6 643.7L307.9 642.3L309.2 640.9L310.5 641.3L311.8 639.6L313.1 638.8L314.4 640.6L315.7 641.7L317.0 643.1L318.3 644.6L319.6 646.0L320.9 645.8L322.2 644.4L323.5 643.7L324.8 642.7L326.1 641.5L327.4 640.8L328.7 640.6L330.0 640.7L331.3 640.8L332.6 640.7L333.9 641.5L335.2 642.4L336.5 644.2L337.8 646.5L339.1 648.3L340.4 650.3L341.7 651.8L343.0 651.6L344.3 651.7L345.6 652.1L346.9 651.6L348.2 651.6L349.5 653.0L350.8 653.7L352.1 655.0L353.4 657.4L354.7 657.9L356.0 658.8L357.3 661.5L358.6 663.3L359.9 662.3L361.2 661.2L362.5 660.7L363.8 660.1L365.1 658.4L366.4 656.4L367.7 654.5L369.0 654.5L370.3 654.1L371.6 653.1L372.9 652.1L374.2 649.7L375.5 648.7L376.8 649.0L378.1 647.9L379.4 646.6L380.7 647.0L382.0 644.6L383.3 641.4L384.6 640.4L385.9 638.9L387.2 637.4L388.5 636.4L389.8 636.6L391.1 637.3L392.4 637.0L393.7 636.3L395.0 637.0L396.3 638.0L397.6 638.1L398.9 639.9L400.2 640.7L401.5 640.7L402.8 641.1L404.1 641.7L405.4 641.4L406.7 640.6L408.0 640.2L409.3 640.3L410.6 640.9L411.9 640.8L413.2 639.9L414.5 639.4L415.8 639.1L417.1 638.5L418.4 638.2L419.7 637.9L421.0 636.8L422.3 635.4L423.6 634.3L424.9 633.0L426.2 632.1L427.5 631.9L428.8 632.7L430.1 632.6L431.4 632.8L432.7 633.1L434.0 633.2L435.3 633.7L436.6 633.8L437.9 634.2L439.2 635.1L440.5 635.7L441.8 636.0L443.1 636.4L444.4 636.7L445.7 638.3L447.0 638.5L448.3 638.3L449.6 638.1L450.9 638.4L452.2 637.4L453.5 636.2L454.8 636.6L456.1 636.5L457.4 636.1L458.7 637.2L460.0 637.4L461.3 636.6L462.6 637.5L463.9 637.5L465.2 637.5L466.5 637.8L467.8 636.4L469.1 636.1L470.4 636.6L471.7 636.1L473.0 636.5L474.3 637.1L475.6 637.2L476.9 638.7L478.2 640.6L479.5 640.9L480.8 639.9L482.1 639.8L483.4 639.1L484.7 638.7L486.0 638.1L487.3 637.3L488.6 637.1L489.9 636.2L491.2 635.1L492.5 634.4L493.8 633.7L495.1 632.8L496.4 632.1L497.7 632.1L499.0 631.5L500.3 631.8L501.6 630.9L502.9 628.9L504.2 627.7L505.5 626.5L506.8 627.0L508.1 627.6L509.4 628.9L510.7 629.4L512.0 628.9L513.3 629.6L514.6 630.3L515.9 630.7L517.2 632.3L518.5 633.4L519.8 633.7L521.1 634.1L522.4 633.5L523.7 632.5L525.0 632.2L526.3 632.4L527.6 633.0L528.9 634.6L530.2 635.4L531.5 635.3L532.8 634.7L534.1 634.4L535.4 632.4L536.7 630.7L538.0 629.9L539.3 628.7L540.6 627.3L541.9 626.3L543.2 625.2L544.5 624.0L545.8 622.5L547.1 623.0L548.4 625.6L549.7 626.9L551.0 627.6L552.3 629.6L553.6 630.7L554.9 629.8L556.2 629.2L557.5 628.8L558.8 627.3L560.1 625.9L561.4 626.1L562.7 626.6L564.0 626.4L565.3 626.9L566.6 628.3L567.9 629.8L569.2 630.9L570.5 631.8L571.8 633.5L573.1 632.7L574.4 630.8L575.7 628.8L577.0 626.5L578.3 625.6L579.6 625.9L580.4 625.0" fill="none" stroke="#820082" stroke-width="2.5" stroke-linejoin="round" stroke-linecap="round"/><path d="M81.7 488.7L83.2 487.8L84.7 487.7L86.2 487.1L87.7 486.4L89.2 485.6L90.7 485.9L92.2 485.5L93.7 485.1L95.2 484.3L96.7 484.3L98.2 484.3L99.7 483.7L101.2 483.1L102.7 482.3L104.2 482.3L105.7 482.3L107.2 482.6L108.7 482.4L110.2 482.7L111.7 482.7L113.2 482.7L114.7 482.2L116.2 481.9L117.7 481.7L119.2 481.6L120.7 482.2L122.2 482.3L123.7 482.3L125.2 482.0L126.7 482.3L128.2 482.2L129.7 481.5L131.2 481.3L132.7 482.0L134.2 482.6L135.7 483.0L137.2 482.9L138.7 483.4L140.2 483.1L141.7 483.0L143.2 483.4L144.7 483.9L146.2 483.4L147.7 483.4L149.2 483.9L150.7 484.7L152.2 484.6L153.7 483.9L155.2 484.1L156.7 483.9L158.2 484.1L159.7 484.4L161.2 484.6L162.7 485.0L164.2 485.1L165.7 484.3L167.2 484.2L168.7 483.5L170.2 484.0L171.7 483.8L173.2 484.0L174.7 484.1L176.2 483.7L177.7 483.8L179.2 484.0L180.7 484.1L182.2 484.3L183.7 483.5L185.2 483.9L186.7 483.3L188.2 483.5L189.7 482.8L191.2 483.4L192.7 483.4L194.2 483.7L195.7 483.7L197.2 484.2L198.7 484.6L200.2 484.4L201.7 484.5L203.2 484.6L204.7 484.6L206.2 484.6L207.7 484.0L209.2 484.0L210.7 483.8L212.2 484.2L213.7 484.3L215.2 483.7L216.7 483.1L218.2 482.8L219.7 482.9L221.2 482.9L222.7 482.4L224.2 482.0L225.7 482.6L227.2 483.1L228.7 483.7L230.2 482.8L231.7 482.3L233.2 481.2L234.7 481.5L236.2 481.1L237.7 481.0L239.2 480.5L240.7 480.1L242.2 479.7L243.7 479.1L245.2 479.3L246.7 479.5L248.2 479.4L249.7 479.4L251.2 479.0L252.7 479.2L254.2 479.0L255.7 479.0L257.2 478.7L258.7 478.8L260.2 479.1L261.7 480.3L263.2 480.9L264.7 481.6L266.2 481.0L267.7 481.2L269.2 481.3L270.7 481.8L272.2 482.0L273.7 481.9L275.2 482.1L276.7 481.7L278.2 481.3L279.7 481.5L281.2 481.1L282.7 481.2L284.2 480.1L285.7 480.2L287.2 479.3L288.7 479.4L290.2 478.6L291.7 478.0L293.2 476.8L294.7 476.0L296.2 475.3L297.7 475.3L299.2 475.0L300.7 474.6L302.2 474.3L303.7 474.3L305.2 474.8L306.7 474.8L308.2 474.6L309.7 474.4L311.2 474.4L312.7 475.6L314.2 476.5L315.7 476.4L317.2 475.8L318.7 476.3L320.2 477.3L321.7 478.6L323.2 479.1L324.7 479.3L326.2 480.0L327.7 480.5L329.2 482.0L330.7 483.2L332.2 484.2L333.7 485.1L335.2 485.0L336.7 486.4L338.2 487.6L339.7 488.5L341.2 488.8L342.7 489.4L344.2 489.8L345.7 490.3L347.2 490.4L348.7 491.6L350.2 491.5L351.7 491.8L353.2 490.9L354.7 490.7L356.2 490.3L357.7 491.4L359.2 491.4L360.7 491.4L362.2 490.1L363.7 489.4L365.2 488.7L366.7 489.0L368.2 488.5L369.7 488.4L371.2 487.6L372.7 487.4L374.2 486.7L375.7 486.2L377.2 485.5L378.7 485.0L380.2 484.2L381.7 484.3L383.2 484.4L384.7 485.2L386.2 485.5L387.7 485.5L389.2 484.2L390.7 484.4L392.2 484.0L393.7 484.8L395.2 484.5L396.7 485.0L398.2 484.5L399.7 484.2L401.2 483.7L402.7 483.7L404.2 483.8L405.7 483.6L407.2 483.5L408.7 483.3L410.2 483.7L411.7 482.6L413.2 482.3L414.7 481.7L416.2 483.3L417.7 482.0L419.2 481.9L420.7 480.8L422.2 481.1L423.7 481.4L425.2 481.8L426.7 482.3L428.2 481.7L429.7 482.4L431.2 483.1L432.7 484.8L434.2 485.4L435.7 486.4L437.2 487.1L438.7 487.4L440.2 487.8L441.7 487.4L443.2 487.7L444.7 488.1L446.2 489.2L447.7 490.1L449.2 489.9L450.7 489.6L452.2 490.0L453.7 490.3L455.2 491.0L456.7 491.2L458.2 490.8L459.7 490.1L461.2 489.2L462.7 489.0L464.2 488.5L465.7 487.8L467.2 486.9L468.7 486.2L470.2 486.0L471.7 485.2L473.2 484.8L474.7 484.6L476.2 484.8L477.7 484.1L479.2 482.7L480.7 482.5L482.2 482.4L483.7 482.8L485.2 481.7L486.7 480.9L488.2 479.8L489.7 478.9L491.2 478.5L492.7 478.7L494.2 478.8L495.7 478.3L497.2 477.6L498.7 477.4L500.2 477.5L501.7 477.5L503.2 476.8L504.7 476.7L506.2 476.7L507.7 476.3L509.2 475.6L510.7 475.7L512.2 476.0L513.7 475.7L515.2 475.2L516.7 475.2L518.2 475.7L519.7 475.5L521.2 475.3L522.7 475.3L524.2 475.9L525.7 476.6L527.2 477.7L528.7 477.5L530.2 477.6L531.7 477.6L533.2 478.8L534.7 479.9L536.2 480.3L537.7 480.5L539.2 479.8L540.7 480.0L542.2 480.3L543.7 481.6L545.2 481.9L546.7 482.1L548.2 481.8L549.7 481.8L551.2 482.1L552.7 482.4L554.2 482.5L555.7 482.3L557.2 482.4L558.7 482.5L560.2 482.7L561.7 481.7L563.2 481.1L564.7 480.2L566.2 479.3L567.7 477.6L569.2 476.1L570.7 474.0L572.2 472.6L573.7 470.4L575.2 470.2L576.7 469.1L578.2 467.9L579.7 465.7" fill="none" stroke="#f4c786" stroke-width="0.9" stroke-linejoin="round" stroke-linecap="round"/><path d="M81.7 505.5L83.2 504.6L84.7 504.2L86.2 502.8L87.7 502.3L89.2 501.3L90.7 500.4L92.2 498.7L93.7 497.2L95.2 496.1L96.7 495.8L98.2 495.3L99.7 494.4L101.2 493.0L102.7 492.6L104.2 492.3L105.7 491.7L107.2 490.7L108.7 490.0L110.2 490.2L111.7 490.5L113.2 490.5L114.7 490.8L116.2 490.9L117.7 491.4L119.2 491.3L120.7 491.3L122.2 492.0L123.7 492.4L125.2 492.7L126.7 492.6L128.2 492.8L129.7 492.9L131.2 493.6L132.7 494.4L134.2 494.5L135.7 494.2L137.2 493.6L138.7 493.6L140.2 493.6L141.7 494.5L143.2 494.9L144.7 495.1L146.2 494.2L147.7 494.0L149.2 493.3L150.7 493.4L152.2 493.3L153.7 493.3L155.2 492.9L156.7 492.1L158.2 491.8L159.7 491.9L161.2 492.3L162.7 492.2L164.2 491.8L165.7 492.5L167.2 493.3L168.7 493.9L170.2 494.0L171.7 494.4L173.2 494.8L174.7 494.8L176.2 495.3L177.7 495.9L179.2 496.7L180.7 496.9L182.2 496.9L183.7 496.5L185.2 496.3L186.7 496.1L188.2 496.3L189.7 496.5L191.2 496.9L192.7 497.1L194.2 496.9L195.7 496.4L197.2 495.4L198.7 494.8L200.2 494.0L201.7 494.0L203.2 493.6L204.7 493.3L206.2 492.8L207.7 491.9L209.2 491.6L210.7 491.2L212.2 491.7L213.7 490.9L215.2 490.1L216.7 488.7L218.2 489.0L219.7 488.6L221.2 488.9L222.7 487.5L224.2 487.0L225.7 486.4L227.2 486.2L228.7 485.6L230.2 485.2L231.7 485.1L233.2 484.6L234.7 485.0L236.2 485.0L237.7 485.3L239.2 484.7L240.7 484.3L242.2 484.0L243.7 483.9L245.2 483.6L246.7 483.7L248.2 483.2L249.7 483.4L251.2 482.5L252.7 482.4L254.2 482.1L255.7 482.5L257.2 482.6L258.7 481.9L260.2 481.1L261.7 481.0L263.2 481.0L264.7 480.5L266.2 480.3L267.7 480.4L269.2 480.4L270.7 479.8L272.2 480.0L273.7 480.2L275.2 480.3L276.7 479.9L278.2 480.7L279.7 480.6L281.2 481.2L282.7 481.3L284.2 482.4L285.7 483.0L287.2 483.4L288.7 483.9L290.2 484.1L291.7 484.8L293.2 484.1L294.7 484.1L296.2 483.8L297.7 484.2L299.2 484.7L300.7 484.9L302.2 484.8L303.7 484.4L305.2 484.5L306.7 485.1L308.2 485.0L309.7 485.0L311.2 485.2L312.7 485.3L314.2 485.4L315.7 486.3L317.2 487.7L318.7 488.1L320.2 487.5L321.7 487.0L323.2 486.7L324.7 485.9L326.2 484.5L327.7 483.5L329.2 483.2L330.7 482.5L332.2 483.0L333.7 483.3L335.2 484.8L336.7 485.8L338.2 488.1L339.7 490.8L341.2 492.9L342.7 494.4L344.2 496.1L345.7 496.6L347.2 497.9L348.7 498.1L350.2 499.5L351.7 500.2L353.2 501.7L354.7 502.1L356.2 502.8L357.7 503.2L359.2 503.8L360.7 503.2L362.2 502.1L363.7 501.2L365.2 500.7L366.7 499.8L368.2 498.6L369.7 496.4L371.2 494.7L372.7 493.9L374.2 492.9L375.7 491.3L377.2 489.0L378.7 487.8L380.2 486.7L381.7 485.7L383.2 485.5L384.7 485.8L386.2 487.8L387.7 489.6L389.2 491.8L390.7 493.3L392.2 494.5L393.7 496.5L395.2 498.0L396.7 499.3L398.2 500.2L399.7 502.2L401.2 504.0L402.7 505.6L404.2 506.6L405.7 507.7L407.2 508.3L408.7 509.3L410.2 509.0L411.7 509.7L413.2 509.4L414.7 510.7L416.2 510.9L417.7 511.8L419.2 512.5L420.7 512.9L422.2 512.3L423.7 511.7L425.2 511.7L426.7 511.8L428.2 511.7L429.7 512.4L431.2 512.9L432.7 513.0L434.2 512.1L435.7 511.8L437.2 511.8L438.7 512.1L440.2 512.2L441.7 512.2L443.2 511.6L444.7 511.1L446.2 510.3L447.7 510.2L449.2 510.6L450.7 510.6L452.2 510.6L453.7 510.1L455.2 510.4L456.7 509.4L458.2 508.5L459.7 507.5L461.2 507.8L462.7 507.7L464.2 507.0L465.7 505.8L467.2 505.0L468.7 505.3L470.2 504.7L471.7 504.3L473.2 502.8L474.7 501.9L476.2 501.2L477.7 500.6L479.2 499.9L480.7 499.4L482.2 499.3L483.7 498.8L485.2 498.1L486.7 497.4L488.2 497.4L489.7 496.3L491.2 495.5L492.7 494.2L494.2 493.4L495.7 493.2L497.2 493.3L498.7 493.5L500.2 492.8L501.7 492.4L503.2 491.7L504.7 491.5L506.2 491.2L507.7 490.5L509.2 490.3L510.7 490.4L512.2 490.7L513.7 490.4L515.2 489.7L516.7 489.1L518.2 488.6L519.7 488.4L521.2 487.7L522.7 487.0L524.2 486.6L525.7 487.3L527.2 487.1L528.7 486.6L530.2 485.4L531.7 485.3L533.2 485.3L534.7 485.6L536.2 485.4L537.7 485.3L539.2 485.4L540.7 486.0L542.2 486.7L543.7 486.5L545.2 486.5L546.7 486.8L548.2 487.3L549.7 487.2L551.2 486.7L552.7 486.1L554.2 486.0L555.7 485.4L557.2 484.9L558.7 484.2L560.2 483.4L561.7 482.5L563.2 481.7L564.7 480.5L566.2 479.0L567.7 477.8L569.2 476.6L570.7 475.1L572.2 473.3L573.7 471.8L575.2 470.9L576.7 469.8L578.2 469.2L579.7 468.0" fill="none" stroke="#f4c786" stroke-width="0.9" stroke-linejoin="round" stroke-linecap="round"/><path d="M81.7 505.6L83.2 505.0L84.7 504.4L86.2 503.4L87.7 501.9L89.2 500.9L90.7 500.7L92.2 500.4L93.7 499.6L95.2 499.4L96.7 499.2L98.2 499.1L99.7 498.9L101.2 498.6L102.7 498.1L104.2 497.7L105.7 497.2L107.2 497.7L108.7 497.5L110.2 497.7L111.7 497.3L113.2 497.8L114.7 498.0L116.2 498.3L117.7 498.1L119.2 498.6L120.7 499.5L122.2 500.3L123.7 501.2L125.2 502.7L126.7 503.5L128.2 504.4L129.7 504.5L131.2 505.9L132.7 507.3L134.2 508.2L135.7 508.5L137.2 508.1L138.7 508.4L140.2 508.6L141.7 508.3L143.2 507.1L144.7 505.6L146.2 504.2L147.7 502.9L149.2 501.4L150.7 499.9L152.2 498.4L153.7 496.7L155.2 495.4L156.7 494.2L158.2 493.0L159.7 492.2L161.2 491.8L162.7 492.0L164.2 492.4L165.7 493.5L167.2 494.2L168.7 495.3L170.2 495.3L171.7 496.3L173.2 497.0L174.7 498.5L176.2 499.6L177.7 500.4L179.2 500.7L180.7 500.8L182.2 501.3L183.7 501.8L185.2 502.0L186.7 501.8L188.2 502.0L189.7 503.0L191.2 503.7L192.7 504.6L194.2 504.7L195.7 505.1L197.2 505.4L198.7 505.8L200.2 506.2L201.7 506.1L203.2 506.3L204.7 506.3L206.2 506.3L207.7 506.6L209.2 506.5L210.7 506.8L212.2 506.1L213.7 505.4L215.2 503.3L216.7 499.1L218.2 495.5L219.7 493.8L221.2 492.3L222.7 491.2L224.2 490.2L225.7 489.9L227.2 490.0L228.7 489.7L230.2 489.5L231.7 489.5L233.2 489.4L234.7 489.5L236.2 488.6L237.7 488.5L239.2 487.9L240.7 488.0L242.2 488.3L243.7 488.0L245.2 488.2L246.7 488.1L248.2 488.6L249.7 488.1L251.2 488.2L252.7 488.3L254.2 489.0L255.7 489.1L257.2 489.9L258.7 489.9L260.2 489.7L261.7 489.5L263.2 489.7L264.7 490.6L266.2 490.9L267.7 491.1L269.2 491.1L270.7 490.6L272.2 490.2L273.7 489.3L275.2 489.1L276.7 488.1L278.2 487.6L279.7 487.2L281.2 487.1L282.7 486.8L284.2 487.1L285.7 488.2L287.2 489.4L288.7 490.6L290.2 490.9L291.7 490.4L293.2 489.4L294.7 489.8L296.2 490.2L297.7 491.2L299.2 491.3L300.7 491.8L302.2 492.6L303.7 493.1L305.2 493.4L306.7 493.0L308.2 492.6L309.7 492.7L311.2 493.2L312.7 494.4L314.2 494.8L315.7 495.3L317.2 494.8L318.7 494.6L320.2 494.2L321.7 494.4L323.2 495.7L324.7 496.0L326.2 496.8L327.7 496.2L329.2 497.1L330.7 497.3L332.2 497.9L333.7 497.9L335.2 498.0L336.7 498.6L338.2 499.0L339.7 499.5L341.2 499.8L342.7 501.0L344.2 502.9L345.7 504.5L347.2 505.6L348.7 506.3L350.2 507.6L351.7 508.4L353.2 508.7L354.7 508.9L356.2 509.1L357.7 509.7L359.2 509.2L360.7 508.5L362.2 507.2L363.7 507.1L365.2 507.3L366.7 506.8L368.2 505.3L369.7 504.4L371.2 503.4L372.7 502.6L374.2 501.8L375.7 501.5L377.2 501.3L378.7 500.6L380.2 500.3L381.7 500.2L383.2 499.6L384.7 498.8L386.2 496.6L387.7 495.2L389.2 493.1L390.7 491.6L392.2 489.6L393.7 488.2L395.2 487.5L396.7 486.6L398.2 486.5L399.7 486.5L401.2 487.5L402.7 488.7L404.2 489.6L405.7 490.4L407.2 490.2L408.7 489.9L410.2 489.7L411.7 490.0L413.2 490.5L414.7 490.5L416.2 490.8L417.7 491.4L419.2 493.1L420.7 494.4L422.2 495.0L423.7 495.2L425.2 495.3L426.7 496.5L428.2 497.7L429.7 499.6L431.2 500.5L432.7 501.2L434.2 501.0L435.7 501.9L437.2 502.5L438.7 503.5L440.2 503.7L441.7 504.4L443.2 504.3L444.7 504.2L446.2 505.1L447.7 505.3L449.2 505.5L450.7 505.4L452.2 506.6L453.7 506.6L455.2 505.9L456.7 505.0L458.2 505.8L459.7 505.5L461.2 505.2L462.7 504.8L464.2 505.1L465.7 504.9L467.2 504.5L468.7 503.8L470.2 503.6L471.7 503.4L473.2 503.7L474.7 503.4L476.2 503.5L477.7 503.5L479.2 503.5L480.7 503.2L482.2 502.7L483.7 502.4L485.2 501.7L486.7 501.5L488.2 501.0L489.7 501.4L491.2 501.3L492.7 500.9L494.2 499.5L495.7 498.1L497.2 497.8L498.7 497.6L500.2 497.5L501.7 496.1L503.2 495.8L504.7 495.2L506.2 494.8L507.7 493.8L509.2 493.1L510.7 492.9L512.2 492.4L513.7 491.7L515.2 491.1L516.7 490.8L518.2 490.9L519.7 489.8L521.2 489.4L522.7 488.7L524.2 489.3L525.7 489.1L527.2 488.3L528.7 488.2L530.2 488.7L531.7 488.6L533.2 488.6L534.7 487.9L536.2 488.2L537.7 487.5L539.2 487.3L540.7 487.6L542.2 487.9L543.7 488.3L545.2 488.0L546.7 487.7L548.2 487.5L549.7 487.0L551.2 486.9L552.7 486.0L554.2 485.6L555.7 484.9L557.2 484.9L558.7 484.2L560.2 484.1L561.7 483.3L563.2 483.4L564.7 482.7L566.2 482.3L567.7 481.2L569.2 479.3L570.7 477.5L572.2 475.5L573.7 474.4L575.2 473.3L576.7 472.3L578.2 470.7L579.7 468.7" fill="none" stroke="#f4c786" stroke-width="0.9" stroke-linejoin="round" stroke-linecap="round"/><path d="M81.7 518.3L83.2 517.8L84.7 517.2L86.2 516.2L87.7 516.4L89.2 516.4L90.7 516.7L92.2 515.9L93.7 516.0L95.2 516.0L96.7 515.9L98.2 515.1L99.7 514.5L101.2 514.0L102.7 513.9L104.2 513.6L105.7 513.8L107.2 513.4L108.7 513.3L110.2 513.4L111.7 513.1L113.2 512.5L114.7 512.0L116.2 511.4L117.7 511.8L119.2 511.8L120.7 512.3L122.2 512.2L123.7 511.1L125.2 511.2L126.7 511.2L128.2 511.4L129.7 511.7L131.2 511.2L132.7 510.9L134.2 509.8L135.7 510.1L137.2 510.7L138.7 511.3L140.2 511.2L141.7 510.9L143.2 511.0L144.7 510.8L146.2 510.7L147.7 511.0L149.2 511.4L150.7 511.9L152.2 511.8L153.7 511.6L155.2 511.5L156.7 511.6L158.2 511.7L159.7 512.1L161.2 512.1L162.7 512.1L164.2 512.5L165.7 512.3L167.2 513.0L168.7 512.9L170.2 514.0L171.7 513.9L173.2 514.0L174.7 513.8L176.2 514.5L177.7 515.2L179.2 515.7L180.7 515.9L182.2 516.3L183.7 517.2L185.2 517.1L186.7 517.1L188.2 517.0L189.7 517.7L191.2 518.5L192.7 518.5L194.2 518.4L195.7 518.6L197.2 518.1L198.7 518.6L200.2 519.3L201.7 520.4L203.2 521.0L204.7 520.2L206.2 520.3L207.7 520.4L209.2 521.4L210.7 521.2L212.2 520.5L213.7 520.1L215.2 520.8L216.7 521.2L218.2 519.9L219.7 518.5L221.2 518.2L222.7 518.1L224.2 518.0L225.7 516.9L227.2 516.6L228.7 516.6L230.2 517.0L231.7 516.6L233.2 516.5L234.7 516.7L236.2 516.7L237.7 516.0L239.2 515.9L240.7 515.7L242.2 515.7L243.7 515.7L245.2 515.8L246.7 515.5L248.2 514.2L249.7 514.0L251.2 513.9L252.7 514.2L254.2 514.3L255.7 513.7L257.2 513.3L258.7 512.6L260.2 512.8L261.7 512.7L263.2 512.4L264.7 512.0L266.2 512.3L267.7 512.2L269.2 512.6L270.7 511.8L272.2 512.0L273.7 511.4L275.2 512.0L276.7 512.3L278.2 512.3L279.7 512.1L281.2 511.6L282.7 511.1L284.2 511.1L285.7 511.0L287.2 511.2L288.7 511.1L290.2 510.7L291.7 510.4L293.2 509.8L294.7 509.9L296.2 510.6L297.7 510.7L299.2 510.4L300.7 509.4L302.2 509.5L303.7 509.3L305.2 509.3L306.7 509.5L308.2 510.1L309.7 510.8L311.2 510.9L312.7 511.4L314.2 511.8L315.7 513.1L317.2 512.9L318.7 514.3L320.2 514.0L321.7 514.2L323.2 513.1L324.7 513.4L326.2 514.0L327.7 514.5L329.2 514.5L330.7 514.2L332.2 514.2L333.7 513.7L335.2 514.2L336.7 514.9L338.2 515.5L339.7 516.9L341.2 517.4L342.7 517.9L344.2 517.6L345.7 517.6L347.2 518.1L348.7 518.2L350.2 518.2L351.7 518.4L353.2 518.7L354.7 519.4L356.2 520.2L357.7 520.4L359.2 520.0L360.7 518.7L362.2 517.0L363.7 515.4L365.2 514.7L366.7 514.8L368.2 514.8L369.7 513.9L371.2 513.5L372.7 513.3L374.2 512.8L375.7 512.4L377.2 511.6L378.7 511.8L380.2 511.7L381.7 512.5L383.2 512.0L384.7 511.8L386.2 511.4L387.7 512.3L389.2 512.6L390.7 512.2L392.2 512.0L393.7 511.7L395.2 512.5L396.7 512.5L398.2 512.8L399.7 512.5L401.2 512.2L402.7 512.4L404.2 512.1L405.7 512.6L407.2 512.3L408.7 513.1L410.2 513.1L411.7 514.0L413.2 513.0L414.7 513.5L416.2 513.3L417.7 514.1L419.2 514.5L420.7 514.0L422.2 514.3L423.7 514.4L425.2 515.6L426.7 515.8L428.2 516.0L429.7 515.9L431.2 516.2L432.7 516.0L434.2 516.7L435.7 517.2L437.2 518.5L438.7 518.7L440.2 518.4L441.7 518.2L443.2 517.8L444.7 518.4L446.2 518.4L447.7 518.6L449.2 518.7L450.7 518.5L452.2 519.0L453.7 519.2L455.2 519.4L456.7 519.7L458.2 519.8L459.7 519.8L461.2 519.3L462.7 519.3L464.2 519.2L465.7 518.1L467.2 517.1L468.7 516.3L470.2 516.2L471.7 515.3L473.2 514.4L474.7 513.0L476.2 512.2L477.7 511.0L479.2 510.9L480.7 510.1L482.2 509.4L483.7 508.4L485.2 507.9L486.7 507.3L488.2 506.7L489.7 505.8L491.2 505.6L492.7 505.0L494.2 504.7L495.7 503.9L497.2 503.2L498.7 502.6L500.2 501.8L501.7 501.9L503.2 501.1L504.7 501.7L506.2 501.0L507.7 500.6L509.2 499.3L510.7 498.8L512.2 498.5L513.7 498.3L515.2 497.9L516.7 497.3L518.2 497.1L519.7 496.2L521.2 495.6L522.7 495.0L524.2 494.5L525.7 494.2L527.2 494.0L528.7 493.9L530.2 493.3L531.7 492.8L533.2 492.1L534.7 491.8L536.2 491.5L537.7 491.4L539.2 491.3L540.7 490.8L542.2 491.3L543.7 490.6L545.2 490.3L546.7 489.5L548.2 489.8L549.7 489.9L551.2 489.9L552.7 489.9L554.2 489.6L555.7 488.8L557.2 487.4L558.7 486.5L560.2 486.1L561.7 485.6L563.2 485.2L564.7 484.2L566.2 483.5L567.7 482.4L569.2 481.4L570.7 479.5L572.2 478.2L573.7 476.5L575.2 475.4L576.7 473.5L578.2 472.7L579.7 471.1" fill="none" stroke="#f4c786" stroke-width="0.9" stroke-linejoin="round" stroke-linecap="round"/><path d="M81.7 530.8L83.2 530.2L84.7 529.4L86.2 528.9L87.7 528.3L89.2 527.2L90.7 525.9L92.2 525.2L93.7 524.6L95.2 524.5L96.7 523.9L98.2 523.4L99.7 522.8L101.2 522.6L102.7 522.7L104.2 522.2L105.7 522.1L107.2 522.4L108.7 523.1L110.2 523.7L111.7 523.8L113.2 524.0L114.7 524.6L116.2 525.0L117.7 526.1L119.2 526.3L120.7 527.3L122.2 528.0L123.7 528.7L125.2 529.1L126.7 529.0L128.2 529.2L129.7 529.1L131.2 529.0L132.7 529.5L134.2 529.8L135.7 529.5L137.2 528.6L138.7 528.2L140.2 527.9L141.7 527.1L143.2 526.6L144.7 526.0L146.2 526.3L147.7 525.7L149.2 525.6L150.7 524.4L152.2 524.2L153.7 523.3L155.2 523.1L156.7 523.1L158.2 522.9L159.7 523.0L161.2 522.6L162.7 523.1L164.2 523.4L165.7 523.1L167.2 523.4L168.7 523.4L170.2 524.9L171.7 525.2L173.2 526.0L174.7 525.1L176.2 525.7L177.7 525.8L179.2 526.5L180.7 526.4L182.2 527.2L183.7 527.6L185.2 528.2L186.7 528.1L188.2 528.8L189.7 528.8L191.2 529.0L192.7 529.7L194.2 530.3L195.7 531.4L197.2 532.3L198.7 532.7L200.2 533.3L201.7 533.1L203.2 533.9L204.7 533.8L206.2 534.5L207.7 534.8L209.2 535.1L210.7 535.5L212.2 534.4L213.7 533.1L215.2 530.6L216.7 529.6L218.2 528.3L219.7 528.0L221.2 527.2L222.7 527.9L224.2 527.1L225.7 526.7L227.2 526.0L228.7 525.6L230.2 525.6L231.7 525.4L233.2 526.0L234.7 525.9L236.2 525.5L237.7 524.7L239.2 524.2L240.7 523.9L242.2 523.7L243.7 524.5L245.2 524.9L246.7 525.9L248.2 525.1L249.7 525.2L251.2 524.4L252.7 525.1L254.2 525.3L255.7 526.5L257.2 526.3L258.7 527.1L260.2 527.5L261.7 527.7L263.2 527.9L264.7 527.6L266.2 528.0L267.7 528.3L269.2 529.0L270.7 529.9L272.2 529.8L273.7 529.8L275.2 529.4L276.7 529.3L278.2 528.5L279.7 528.0L281.2 528.7L282.7 528.4L284.2 528.0L285.7 526.4L287.2 526.8L288.7 527.2L290.2 527.7L291.7 527.7L293.2 527.1L294.7 527.1L296.2 526.3L297.7 526.7L299.2 526.6L300.7 526.7L302.2 526.5L303.7 525.8L305.2 525.5L306.7 524.9L308.2 524.9L309.7 525.0L311.2 525.4L312.7 526.3L314.2 526.6L315.7 526.5L317.2 526.3L318.7 526.4L320.2 526.8L321.7 526.9L323.2 527.3L324.7 527.3L326.2 527.5L327.7 528.4L329.2 529.5L330.7 530.7L332.2 531.9L333.7 534.0L335.2 536.3L336.7 539.1L338.2 542.2L339.7 545.6L341.2 549.2L342.7 552.0L344.2 555.7L345.7 557.6L347.2 559.5L348.7 560.3L350.2 562.2L351.7 564.0L353.2 565.0L354.7 565.9L356.2 566.2L357.7 566.3L359.2 565.1L360.7 564.2L362.2 562.4L363.7 561.3L365.2 560.2L366.7 559.3L368.2 557.7L369.7 555.1L371.2 552.9L372.7 550.7L374.2 548.6L375.7 546.3L377.2 544.9L378.7 544.1L380.2 542.9L381.7 541.2L383.2 538.9L384.7 537.9L386.2 536.2L387.7 535.8L389.2 534.8L390.7 534.0L392.2 533.2L393.7 533.1L395.2 532.9L396.7 532.3L398.2 531.4L399.7 531.1L401.2 531.1L402.7 531.0L404.2 529.9L405.7 529.4L407.2 528.3L408.7 528.8L410.2 527.9L411.7 527.6L413.2 526.4L414.7 525.4L416.2 524.8L417.7 525.1L419.2 525.6L420.7 525.9L422.2 525.9L423.7 526.4L425.2 526.5L426.7 527.0L428.2 527.1L429.7 528.0L431.2 528.6L432.7 529.7L434.2 530.6L435.7 531.1L437.2 530.6L438.7 530.9L440.2 531.0L441.7 532.1L443.2 531.4L444.7 531.4L446.2 531.4L447.7 531.0L449.2 530.8L450.7 529.7L452.2 529.6L453.7 528.9L455.2 529.4L456.7 528.7L458.2 528.1L459.7 527.1L461.2 527.4L462.7 527.1L464.2 526.7L465.7 525.8L467.2 525.6L468.7 525.3L470.2 524.8L471.7 523.8L473.2 523.1L474.7 523.1L476.2 522.9L477.7 522.0L479.2 521.2L480.7 520.4L482.2 520.6L483.7 520.1L485.2 519.5L486.7 518.1L488.2 517.4L489.7 517.1L491.2 516.1L492.7 515.3L494.2 514.3L495.7 514.6L497.2 514.1L498.7 513.7L500.2 512.5L501.7 511.4L503.2 510.0L504.7 509.3L506.2 509.3L507.7 509.2L509.2 508.8L510.7 508.8L512.2 507.7L513.7 507.1L515.2 506.9L516.7 507.2L518.2 506.9L519.7 505.4L521.2 505.2L522.7 505.2L524.2 505.3L525.7 504.3L527.2 503.7L528.7 502.9L530.2 503.0L531.7 502.2L533.2 502.0L534.7 502.0L536.2 501.8L537.7 501.6L539.2 501.3L540.7 501.7L542.2 501.1L543.7 500.4L545.2 499.7L546.7 499.4L548.2 498.7L549.7 498.6L551.2 497.9L552.7 497.3L554.2 497.3L555.7 496.5L557.2 496.7L558.7 494.9L560.2 495.0L561.7 493.5L563.2 492.6L564.7 490.9L566.2 489.2L567.7 488.0L569.2 486.8L570.7 485.1L572.2 483.2L573.7 481.4L575.2 480.1L576.7 478.9L578.2 476.6L579.7 474.7" fill="none" stroke="#f4c786" stroke-width="0.9" stroke-linejoin="round" stroke-linecap="round"/><path d="M81.7 539.2L83.2 538.9L84.7 539.0L86.2 538.9L87.7 538.6L89.2 538.2L90.7 538.2L92.2 537.5L93.7 537.2L95.2 536.7L96.7 536.5L98.2 535.8L99.7 535.5L101.2 535.1L102.7 534.6L104.2 534.4L105.7 534.7L107.2 534.8L108.7 534.8L110.2 534.2L111.7 533.8L113.2 532.9L114.7 532.7L116.2 533.3L117.7 533.6L119.2 533.3L120.7 533.0L122.2 533.1L123.7 533.7L125.2 533.9L126.7 534.2L128.2 534.9L129.7 535.2L131.2 535.8L132.7 536.6L134.2 538.0L135.7 539.0L137.2 540.1L138.7 540.4L140.2 539.8L141.7 539.3L143.2 539.1L144.7 539.4L146.2 538.4L147.7 537.6L149.2 536.8L150.7 537.0L152.2 537.0L153.7 537.0L155.2 536.2L156.7 535.8L158.2 535.4L159.7 535.9L161.2 535.9L162.7 536.6L164.2 537.2L165.7 538.5L167.2 540.2L168.7 541.6L170.2 542.3L171.7 541.3L173.2 540.1L174.7 539.1L176.2 539.2L177.7 538.8L179.2 539.2L180.7 539.1L182.2 539.8L183.7 540.4L185.2 541.2L186.7 542.4L188.2 543.1L189.7 544.2L191.2 544.6L192.7 544.8L194.2 545.2L195.7 546.4L197.2 547.4L198.7 548.7L200.2 549.4L201.7 550.2L203.2 550.5L204.7 550.8L206.2 550.4L207.7 550.6L209.2 550.4L210.7 550.3L212.2 550.1L213.7 548.9L215.2 546.0L216.7 542.3L218.2 540.1L219.7 538.6L221.2 537.4L222.7 535.9L224.2 534.6L225.7 533.0L227.2 532.3L228.7 532.5L230.2 532.6L231.7 532.7L233.2 530.8L234.7 529.2L236.2 528.3L237.7 527.9L239.2 527.8L240.7 526.5L242.2 526.6L243.7 526.0L245.2 525.7L246.7 525.8L248.2 525.4L249.7 524.7L251.2 523.1L252.7 523.0L254.2 522.6L255.7 522.9L257.2 521.8L258.7 521.8L260.2 520.6L261.7 520.9L263.2 521.0L264.7 521.2L266.2 520.6L267.7 519.9L269.2 519.5L270.7 519.1L272.2 518.9L273.7 519.3L275.2 519.5L276.7 519.6L278.2 519.6L279.7 519.9L281.2 519.8L282.7 519.7L284.2 519.7L285.7 519.8L287.2 519.5L288.7 519.7L290.2 520.0L291.7 519.2L293.2 519.2L294.7 518.8L296.2 519.3L297.7 518.9L299.2 518.1L300.7 518.1L302.2 518.1L303.7 518.3L305.2 517.4L306.7 517.0L308.2 516.9L309.7 517.9L311.2 518.0L312.7 518.6L314.2 518.1L315.7 517.9L317.2 517.5L318.7 517.2L320.2 517.0L321.7 517.6L323.2 517.6L324.7 517.7L326.2 517.1L327.7 517.9L329.2 518.2L330.7 519.7L332.2 520.9L333.7 523.1L335.2 524.8L336.7 527.3L338.2 529.7L339.7 532.8L341.2 535.2L342.7 537.9L344.2 540.3L345.7 543.0L347.2 545.0L348.7 545.9L350.2 546.6L351.7 547.7L353.2 548.5L354.7 549.2L356.2 549.7L357.7 549.3L359.2 549.1L360.7 548.5L362.2 548.4L363.7 547.8L365.2 546.4L366.7 544.9L368.2 542.8L369.7 541.8L371.2 539.6L372.7 537.7L374.2 535.6L375.7 534.6L377.2 532.9L378.7 531.5L380.2 529.8L381.7 529.4L383.2 528.7L384.7 528.4L386.2 527.1L387.7 526.3L389.2 525.6L390.7 524.9L392.2 524.2L393.7 524.2L395.2 523.8L396.7 523.1L398.2 522.1L399.7 522.3L401.2 522.0L402.7 521.7L404.2 521.2L405.7 521.2L407.2 521.5L408.7 520.9L410.2 520.0L411.7 519.3L413.2 518.0L414.7 517.8L416.2 516.9L417.7 517.4L419.2 517.1L420.7 517.4L422.2 517.3L423.7 517.9L425.2 518.6L426.7 519.2L428.2 519.7L429.7 520.7L431.2 521.4L432.7 522.8L434.2 522.9L435.7 522.8L437.2 521.9L438.7 522.5L440.2 523.0L441.7 523.3L443.2 523.3L444.7 523.3L446.2 523.3L447.7 522.9L449.2 522.7L450.7 522.7L452.2 522.2L453.7 521.7L455.2 521.0L456.7 520.9L458.2 520.9L459.7 520.8L461.2 519.3L462.7 518.6L464.2 518.3L465.7 519.1L467.2 519.1L468.7 519.3L470.2 517.9L471.7 517.1L473.2 516.2L474.7 516.0L476.2 515.8L477.7 515.5L479.2 515.7L480.7 515.5L482.2 514.4L483.7 513.5L485.2 512.6L486.7 512.7L488.2 512.2L489.7 511.4L491.2 510.6L492.7 510.5L494.2 510.2L495.7 510.0L497.2 509.4L498.7 509.6L500.2 508.7L501.7 508.2L503.2 507.0L504.7 507.1L506.2 507.4L507.7 507.1L509.2 506.3L510.7 505.6L512.2 504.9L513.7 504.4L515.2 502.7L516.7 502.6L518.2 502.1L519.7 502.8L521.2 502.3L522.7 501.8L524.2 501.1L525.7 500.7L527.2 500.6L528.7 500.2L530.2 499.9L531.7 499.6L533.2 499.3L534.7 499.0L536.2 498.7L537.7 498.4L539.2 498.0L540.7 497.6L542.2 497.0L543.7 496.7L545.2 496.4L546.7 496.6L548.2 496.4L549.7 495.8L551.2 495.3L552.7 494.6L554.2 494.7L555.7 493.9L557.2 493.3L558.7 492.5L560.2 491.6L561.7 490.7L563.2 489.4L564.7 488.4L566.2 486.8L567.7 485.7L569.2 484.0L570.7 483.0L572.2 481.6L573.7 480.2L575.2 478.0L576.7 476.4L578.2 474.7L579.7 473.1" fill="none" stroke="#f4c786" stroke-width="0.9" stroke-linejoin="round" stroke-linecap="round"/><path d="M81.7 570.3L83.2 569.7L84.7 569.3L86.2 567.9L87.7 566.9L89.2 566.2L90.7 566.0L92.2 566.2L93.7 566.1L95.2 566.3L96.7 566.2L98.2 565.7L99.7 565.5L101.2 565.9L102.7 566.9L104.2 567.5L105.7 567.4L107.2 567.2L108.7 567.8L110.2 568.6L111.7 568.6L113.2 568.8L114.7 569.3L116.2 570.3L117.7 570.1L119.2 570.2L120.7 570.5L122.2 572.0L123.7 572.9L125.2 572.7L126.7 572.8L128.2 572.6L129.7 573.2L131.2 573.1L132.7 573.6L134.2 574.3L135.7 574.2L137.2 574.5L138.7 574.1L140.2 574.6L141.7 574.5L143.2 574.3L144.7 574.2L146.2 574.0L147.7 573.3L149.2 573.2L150.7 572.6L152.2 572.9L153.7 571.4L155.2 570.7L156.7 569.6L158.2 569.5L159.7 568.3L161.2 567.9L162.7 567.4L164.2 567.1L165.7 566.4L167.2 566.3L168.7 566.2L170.2 566.5L171.7 566.6L173.2 566.4L174.7 565.9L176.2 564.6L177.7 563.9L179.2 563.7L180.7 563.9L182.2 564.7L183.7 565.0L185.2 565.2L186.7 565.2L188.2 564.7L189.7 564.9L191.2 564.4L192.7 564.9L194.2 565.2L195.7 565.3L197.2 565.1L198.7 565.2L200.2 566.2L201.7 566.8L203.2 566.5L204.7 567.1L206.2 567.4L207.7 568.0L209.2 568.0L210.7 568.2L212.2 568.5L213.7 568.4L215.2 568.1L216.7 567.4L218.2 567.7L219.7 568.1L221.2 568.1L222.7 567.7L224.2 566.8L225.7 566.6L227.2 565.9L228.7 564.9L230.2 564.9L231.7 564.5L233.2 564.6L234.7 564.3L236.2 564.0L237.7 563.1L239.2 562.6L240.7 562.0L242.2 561.9L243.7 560.8L245.2 560.4L246.7 559.7L248.2 559.2L249.7 558.5L251.2 558.5L252.7 558.6L254.2 558.1L255.7 557.1L257.2 556.3L258.7 555.8L260.2 555.3L261.7 555.0L263.2 555.4L264.7 555.3L266.2 554.8L267.7 553.9L269.2 553.4L270.7 552.9L272.2 552.6L273.7 552.2L275.2 552.3L276.7 552.0L278.2 552.2L279.7 552.2L281.2 552.3L282.7 551.8L284.2 552.3L285.7 553.0L287.2 553.7L288.7 553.9L290.2 553.3L291.7 553.4L293.2 554.4L294.7 555.1L296.2 555.1L297.7 554.7L299.2 554.5L300.7 555.1L302.2 555.2L303.7 555.7L305.2 556.0L306.7 555.7L308.2 555.8L309.7 554.9L311.2 554.8L312.7 554.8L314.2 554.4L315.7 554.7L317.2 554.0L318.7 554.6L320.2 554.5L321.7 555.1L323.2 554.6L324.7 554.9L326.2 555.4L327.7 556.7L329.2 556.3L330.7 556.5L332.2 557.0L333.7 558.9L335.2 561.1L336.7 563.2L338.2 565.9L339.7 568.8L341.2 571.2L342.7 572.4L344.2 572.8L345.7 574.0L347.2 575.7L348.7 577.1L350.2 578.5L351.7 579.1L353.2 580.9L354.7 581.5L356.2 581.9L357.7 580.9L359.2 580.1L360.7 579.3L362.2 579.1L363.7 578.0L365.2 575.9L366.7 574.1L368.2 571.5L369.7 569.6L371.2 566.9L372.7 564.5L374.2 562.1L375.7 559.8L377.2 557.7L378.7 555.4L380.2 552.7L381.7 550.4L383.2 548.2L384.7 546.1L386.2 544.2L387.7 542.5L389.2 541.9L390.7 540.4L392.2 538.7L393.7 537.4L395.2 536.2L396.7 535.5L398.2 534.2L399.7 534.4L401.2 533.8L402.7 533.2L404.2 532.5L405.7 531.5L407.2 531.1L408.7 529.9L410.2 529.6L411.7 529.1L413.2 529.3L414.7 528.7L416.2 529.0L417.7 528.3L419.2 529.0L420.7 527.8L422.2 526.3L423.7 524.8L425.2 525.0L426.7 525.9L428.2 526.8L429.7 528.5L431.2 528.9L432.7 529.6L434.2 530.4L435.7 531.2L437.2 533.0L438.7 534.0L440.2 535.0L441.7 535.7L443.2 536.2L444.7 537.3L446.2 537.4L447.7 538.0L449.2 538.1L450.7 537.8L452.2 536.8L453.7 535.8L455.2 534.1L456.7 532.7L458.2 531.0L459.7 529.7L461.2 528.0L462.7 527.0L464.2 526.3L465.7 527.2L467.2 527.9L468.7 527.9L470.2 528.0L471.7 527.6L473.2 527.4L474.7 526.5L476.2 525.1L477.7 523.8L479.2 522.5L480.7 521.8L482.2 520.8L483.7 519.6L485.2 518.1L486.7 516.8L488.2 515.9L489.7 515.3L491.2 514.7L492.7 513.7L494.2 512.5L495.7 511.4L497.2 510.5L498.7 510.0L500.2 508.8L501.7 508.0L503.2 507.1L504.7 506.6L506.2 506.1L507.7 505.7L509.2 505.2L510.7 504.6L512.2 503.7L513.7 503.4L515.2 503.2L516.7 502.8L518.2 502.5L519.7 502.1L521.2 501.8L522.7 502.1L524.2 502.9L525.7 504.4L527.2 504.4L528.7 503.7L530.2 502.8L531.7 502.1L533.2 501.5L534.7 500.7L536.2 500.7L537.7 500.8L539.2 500.6L540.7 499.7L542.2 499.4L543.7 499.2L545.2 499.0L546.7 498.7L548.2 498.4L549.7 497.5L551.2 496.4L552.7 495.6L554.2 494.9L555.7 494.0L557.2 492.6L558.7 491.2L560.2 490.5L561.7 488.8L563.2 487.6L564.7 485.4L566.2 484.2L567.7 482.8L569.2 481.8L570.7 480.8L572.2 479.2L573.7 477.7L575.2 476.2L576.7 475.0L578.2 473.9L579.7 473.0" fill="none" stroke="#f4c786" stroke-width="0.9" stroke-linejoin="round" stroke-linecap="round"/><path d="M81.7 522.1L83.2 522.3L84.7 522.5L86.2 522.5L87.7 521.8L89.2 521.1L90.7 520.5L92.2 520.2L93.7 519.4L95.2 518.5L96.7 518.1L98.2 517.8L99.7 517.2L101.2 516.5L102.7 515.9L104.2 515.6L105.7 515.2L107.2 514.9L108.7 514.8L110.2 514.5L111.7 514.4L113.2 514.5L114.7 514.5L116.2 514.5L117.7 515.1L119.2 515.4L120.7 515.3L122.2 515.7L123.7 516.6L125.2 517.3L126.7 517.6L128.2 518.1L129.7 518.7L131.2 519.2L132.7 519.8L134.2 520.0L135.7 520.0L137.2 520.5L138.7 520.6L140.2 520.7L141.7 521.0L143.2 521.2L144.7 521.2L146.2 520.8L147.7 520.2L149.2 519.0L150.7 517.9L152.2 517.4L153.7 516.7L155.2 516.5L156.7 516.3L158.2 515.4L159.7 514.8L161.2 515.6L162.7 516.2L164.2 516.7L165.7 517.3L167.2 517.8L168.7 518.4L170.2 518.2L171.7 518.1L173.2 518.2L174.7 518.3L176.2 518.2L177.7 518.2L179.2 518.4L180.7 518.8L182.2 519.3L183.7 519.2L185.2 519.2L186.7 519.8L188.2 519.9L189.7 520.2L191.2 521.1L192.7 521.9L194.2 522.5L195.7 522.9L197.2 523.0L198.7 522.9L200.2 523.1L201.7 523.0L203.2 522.7L204.7 522.7L206.2 523.2L207.7 523.5L209.2 523.8L210.7 524.3L212.2 524.3L213.7 522.4L215.2 520.5L216.7 518.2L218.2 516.1L219.7 515.7L221.2 515.4L222.7 515.2L224.2 514.8L225.7 514.2L227.2 513.9L228.7 513.5L230.2 512.8L231.7 512.8L233.2 512.8L234.7 512.7L236.2 513.0L237.7 512.7L239.2 512.1L240.7 512.0L242.2 512.0L243.7 511.8L245.2 511.5L246.7 511.5L248.2 511.4L249.7 511.0L251.2 510.7L252.7 510.8L254.2 510.6L255.7 510.5L257.2 510.5L258.7 510.5L260.2 510.6L261.7 510.4L263.2 510.2L264.7 510.1L266.2 509.8L267.7 509.6L269.2 509.9L270.7 509.7L272.2 509.7L273.7 509.6L275.2 509.5L276.7 509.6L278.2 509.5L279.7 509.6L281.2 509.2L282.7 509.2L284.2 509.6L285.7 509.3L287.2 509.0L288.7 508.9L290.2 508.7L291.7 508.8L293.2 508.8L294.7 508.6L296.2 508.5L297.7 508.4L299.2 508.2L300.7 508.4L302.2 508.6L303.7 508.5L305.2 508.5L306.7 508.3L308.2 508.2L309.7 508.3L311.2 508.3L312.7 508.3L314.2 508.3L315.7 508.1L317.2 508.1L318.7 508.5L320.2 508.5L321.7 508.1L323.2 508.3L324.7 508.7L326.2 508.4L327.7 508.2L329.2 508.3L330.7 508.0L332.2 509.2L333.7 511.1L335.2 512.5L336.7 514.0L338.2 515.6L339.7 517.1L341.2 518.7L342.7 522.4L344.2 526.0L345.7 527.5L347.2 528.5L348.7 529.3L350.2 530.3L351.7 530.8L353.2 531.3L354.7 532.0L356.2 532.5L357.7 532.9L359.2 532.0L360.7 530.6L362.2 529.3L363.7 529.0L365.2 528.7L366.7 528.2L368.2 526.5L369.7 524.4L371.2 522.6L372.7 521.4L374.2 520.3L375.7 519.2L377.2 518.0L378.7 516.9L380.2 516.6L381.7 516.1L383.2 515.6L384.7 515.5L386.2 515.1L387.7 514.9L389.2 514.5L390.7 513.4L392.2 512.3L393.7 512.0L395.2 511.4L396.7 510.7L398.2 510.6L399.7 510.4L401.2 510.1L402.7 510.5L404.2 511.0L405.7 511.0L407.2 511.1L408.7 511.2L410.2 511.0L411.7 511.2L413.2 511.2L414.7 510.9L416.2 511.1L417.7 511.2L419.2 511.1L420.7 510.9L422.2 510.7L423.7 510.6L425.2 510.5L426.7 510.9L428.2 511.4L429.7 512.0L431.2 512.6L432.7 513.4L434.2 513.6L435.7 514.0L437.2 514.5L438.7 514.7L440.2 514.8L441.7 515.0L443.2 515.6L444.7 516.0L446.2 516.2L447.7 516.3L449.2 516.6L450.7 516.8L452.2 516.4L453.7 516.0L455.2 515.7L456.7 514.9L458.2 514.8L459.7 515.1L461.2 514.8L462.7 514.0L464.2 513.5L465.7 513.4L467.2 513.2L468.7 512.7L470.2 512.3L471.7 511.6L473.2 510.8L474.7 510.0L476.2 509.0L477.7 507.8L479.2 507.0L480.7 506.1L482.2 505.3L483.7 504.5L485.2 503.5L486.7 502.9L488.2 502.0L489.7 501.5L491.2 501.2L492.7 500.1L494.2 499.2L495.7 498.8L497.2 497.8L498.7 497.3L500.2 497.3L501.7 496.8L503.2 496.1L504.7 495.6L506.2 495.3L507.7 495.0L509.2 494.7L510.7 494.0L512.2 493.8L513.7 493.2L515.2 492.5L516.7 491.9L518.2 491.8L519.7 491.7L521.2 491.2L522.7 490.7L524.2 490.2L525.7 489.7L527.2 489.2L528.7 489.5L530.2 490.0L531.7 490.6L533.2 491.1L534.7 491.3L536.2 491.5L537.7 491.8L539.2 492.6L540.7 492.6L542.2 492.2L543.7 491.9L545.2 491.5L546.7 491.3L548.2 491.4L549.7 491.1L551.2 490.8L552.7 490.6L554.2 490.2L555.7 488.8L557.2 487.5L558.7 486.4L560.2 485.4L561.7 484.2L563.2 482.9L564.7 482.2L566.2 481.2L567.7 480.0L569.2 479.3L570.7 478.5L572.2 477.5L573.7 476.2L575.2 475.3L576.7 473.9L578.2 472.3L579.7 470.8L580.4 470.3" fill="none" stroke="#f08c14" stroke-width="2.7" stroke-linejoin="round" stroke-linecap="round"/><path d="M109.2 426.3L111.2 440.5L113.2 429.9L115.2 414.2L117.2 434.3L119.2 422.4L121.2 426.4L123.2 415.0L125.2 419.5L127.2 394.7L129.2 421.6L131.2 403.9L133.2 391.9L135.2 412.2L137.2 408.2L139.2 393.1L141.2 423.5L143.2 403.9L145.2 410.6L147.2 405.3L149.2 403.7L151.2 402.8L153.2 398.4L155.2 382.9L157.2 398.9L159.2 383.3L161.2 396.1L163.2 408.5L165.2 420.0L167.2 414.4L169.2 405.2L171.2 409.5L173.2 410.5L175.2 421.0L177.2 422.4L179.2 409.1L181.2 415.9L183.2 407.6L185.2 417.5L187.2 386.8L189.2 393.0L191.2 408.7L193.2 407.7L195.2 395.4L197.2 406.2L199.2 389.2L201.2 396.4L203.2 404.8L205.2 419.5L207.2 415.7L209.2 407.8L211.2 441.5L213.2 412.5L215.2 421.5L217.2 409.4L219.2 423.0L221.2 413.4L223.2 422.3L225.2 414.9L227.2 416.1L229.2 422.0L231.2 410.8L233.2 411.9L235.2 403.6L237.2 391.5L239.2 397.9L241.2 419.3L243.2 422.1L245.2 404.0L247.2 424.6L249.2 416.6L251.2 386.0L253.2 386.5L255.2 389.6L257.2 404.3L259.2 416.9L261.2 400.7L263.2 408.0L265.2 399.2L267.2 399.2L269.2 415.6L271.2 405.7L273.2 426.3L275.2 436.0L277.2 462.0L279.2 438.4L281.2 425.3L283.2 434.8L285.2 424.6L287.2 403.4L289.2 391.5L291.2 414.9L293.2 424.4L295.2 416.8L297.2 418.9L299.2 418.9L301.2 423.4L303.2 424.4L305.2 410.6L307.2 408.0L309.2 432.4L311.2 417.5L313.2 424.3L315.2 422.2L317.2 415.5L319.2 416.2L321.2 438.6L323.2 426.2L325.2 420.4L327.2 411.3L329.2 419.5L331.2 418.2L333.2 431.4L335.2 433.6L337.2 442.2L339.2 454.0L341.2 462.0L343.2 434.3L345.2 462.0L347.2 451.3L349.2 433.0L351.2 454.3L353.2 447.6L355.2 442.9L357.2 438.7L359.2 425.1L361.2 448.6L363.2 398.6L365.2 439.6L367.2 429.4L369.2 444.7L371.2 446.6L373.2 440.6L375.2 455.7L377.2 462.0L379.2 455.6L381.2 447.9L383.2 455.2L385.2 460.7L387.2 444.3L389.2 441.6L391.2 451.0L393.2 429.3L395.2 422.8L397.2 426.3L399.2 436.5L401.2 396.3L403.2 396.8L405.2 421.3L407.2 409.6L409.2 412.8L411.2 427.0L413.2 408.9L415.2 405.9L417.2 428.4L419.2 405.0L421.2 413.9L423.2 412.2L425.2 411.8L427.2 412.6L429.2 402.1L431.2 406.7L433.2 381.9L435.2 412.9L437.2 417.4L439.2 436.0L441.2 418.6L443.2 407.9L445.2 422.7L447.2 391.4L449.2 409.7L451.2 414.9L453.2 394.6L455.2 428.2L457.2 395.6L459.2 399.9L461.2 406.9L463.2 402.9L465.2 408.1L467.2 407.5L469.2 421.4L471.2 410.0L473.2 428.9L475.2 404.2L477.2 418.4L479.2 400.1L481.2 395.2L483.2 426.9L485.2 395.4L487.2 404.2L489.2 406.0L491.2 417.2L493.2 388.7L495.2 402.5L497.2 403.5L499.2 408.8L501.2 383.1L503.2 392.3L505.2 381.0L507.2 405.7L509.2 379.9L511.2 389.6L513.2 392.0L515.2 412.5L517.2 394.5L519.2 380.4L521.2 407.9L523.2 380.5L525.2 383.8L527.2 392.3L529.2 367.4L531.2 400.5L533.2 393.4L535.2 375.1L537.2 396.3L539.2 384.2L541.2 395.6L543.2 384.9L545.2 380.2L547.2 395.7L549.2 381.5L551.2 387.0L553.2 387.9L555.2 382.3L557.2 371.9L559.2 357.6L561.2 384.9L563.2 369.8L565.2 386.8L567.2 394.2L569.2 387.0L571.2 371.5L573.2 369.2L575.2 373.7L577.2 355.9L579.2 358.0L581.2 399.3L583.2 362.4L585.2 379.2L587.2 372.1" fill="none" stroke="#2828d8" stroke-width="0.9" stroke-linejoin="round" stroke-linecap="round"/><path d="M109.2 431.4L110.7 430.2L112.2 426.7L113.7 424.2L115.2 425.2L116.7 425.3L118.2 424.5L119.7 424.0L121.2 421.5L122.7 417.3L124.2 413.5L125.7 409.2L127.2 406.2L128.7 404.4L130.2 402.0L131.7 399.9L133.2 402.8L134.7 405.0L136.2 406.4L137.7 408.2L139.2 409.8L140.7 410.9L142.2 411.1L143.7 411.1L145.2 409.9L146.7 408.5L148.2 406.6L149.7 403.7L151.2 400.7L152.7 398.9L154.2 397.5L155.7 396.4L157.2 395.7L158.7 396.0L160.2 399.8L161.7 403.2L163.2 406.2L164.7 409.8L166.2 412.0L167.7 412.7L169.2 412.4L170.7 413.6L172.2 414.7L173.7 415.1L175.2 416.8L176.7 416.6L178.2 414.5L179.7 412.1L181.2 410.4L182.7 407.6L184.2 406.2L185.7 406.4L187.2 405.0L188.7 403.6L190.2 402.1L191.7 400.5L193.2 400.7L194.7 401.5L196.2 401.3L197.7 400.9L199.2 401.4L200.7 402.2L202.2 404.7L203.7 407.9L205.2 409.7L206.7 411.9L208.2 414.3L209.7 416.7L211.2 418.9L212.7 418.6L214.2 418.1L215.7 418.3L217.2 418.7L218.7 418.9L220.2 418.9L221.7 419.4L223.2 419.6L224.7 419.5L226.2 420.1L227.7 421.1L229.2 417.8L230.7 414.2L232.2 412.6L233.7 409.7L235.2 406.3L236.7 406.8L238.2 407.2L239.7 407.4L241.2 409.6L242.7 412.4L244.2 413.1L245.7 411.5L247.2 408.7L248.7 406.9L250.2 404.7L251.7 401.0L253.2 398.6L254.7 397.4L256.2 398.8L257.7 400.0L259.2 401.5L260.7 402.6L262.2 403.4L263.7 404.6L265.2 404.0L266.7 402.7L268.2 405.1L269.7 410.5L271.2 414.8L272.7 420.4L274.2 426.6L275.7 431.3L277.2 436.4L278.7 435.8L280.2 433.7L281.7 430.6L283.2 427.8L284.7 424.2L286.2 420.8L287.7 418.5L289.2 417.9L290.7 417.3L292.2 416.9L293.7 417.0L295.2 417.7L296.7 417.2L298.2 416.5L299.7 418.0L301.2 418.6L302.7 418.7L304.2 419.2L305.7 419.2L307.2 419.9L308.7 421.0L310.2 421.7L311.7 422.0L313.2 423.5L314.7 424.5L316.2 424.6L317.7 425.1L319.2 425.5L320.7 425.8L322.2 422.8L323.7 419.8L325.2 416.4L326.7 413.1L328.2 415.2L329.7 419.1L331.2 422.3L332.7 427.8L334.2 433.9L335.7 438.7L337.2 446.2L338.7 450.7L340.2 450.7L341.7 452.1L343.2 452.4L344.7 451.5L346.2 448.3L347.7 446.3L349.2 446.1L350.7 445.9L352.2 446.5L353.7 448.0L355.2 447.3L356.7 443.1L358.2 437.9L359.7 433.1L361.2 430.6L362.7 433.0L364.2 436.0L365.7 437.2L367.2 438.1L368.7 440.8L370.2 443.2L371.7 445.7L373.2 449.5L374.7 453.6L376.2 457.4L377.7 461.0L379.2 461.8L380.7 461.7L382.2 462.0L383.7 459.0L385.2 454.1L386.7 450.3L388.2 445.7L389.7 441.8L391.2 439.8L392.7 435.7L394.2 431.5L395.7 428.6L397.2 425.2L398.7 420.9L400.2 416.3L401.7 415.0L403.2 415.6L404.7 415.3L406.2 415.7L407.7 416.1L409.2 414.5L410.7 413.6L412.2 412.9L413.7 412.0L415.2 411.1L416.7 410.0L418.2 409.8L419.7 410.8L421.2 413.0L422.7 414.1L424.2 415.2L425.7 415.1L427.2 411.3L428.7 406.6L430.2 402.8L431.7 400.7L433.2 403.4L434.7 406.1L436.2 409.8L437.7 413.0L439.2 414.2L440.7 416.8L442.2 418.1L443.7 414.6L445.2 411.7L446.7 409.1L448.2 408.0L449.7 407.9L451.2 409.3L452.7 410.4L454.2 410.5L455.7 410.0L457.2 409.1L458.7 408.8L460.2 408.5L461.7 407.3L463.2 405.7L464.7 405.7L466.2 407.6L467.7 409.4L469.2 411.5L470.7 413.9L472.2 417.4L473.7 416.6L475.2 413.5L476.7 410.3L478.2 409.1L479.7 410.1L481.2 410.1L482.7 409.9L484.2 408.7L485.7 407.9L487.2 409.1L488.7 409.4L490.2 409.1L491.7 407.1L493.2 403.6L494.7 401.0L496.2 398.2L497.7 396.3L499.2 395.0L500.7 393.5L502.2 392.4L503.7 391.3L505.2 388.6L506.7 386.8L508.2 387.8L509.7 389.0L511.2 389.5L512.7 390.2L514.2 391.6L515.7 391.7L517.2 390.9L518.7 390.6L520.2 390.5L521.7 389.4L523.2 388.1L524.7 385.1L526.2 382.1L527.7 380.6L529.2 381.8L530.7 383.9L532.2 385.5L533.7 386.3L535.2 387.0L536.7 387.7L538.2 388.4L539.7 388.1L541.2 388.1L542.7 386.9L544.2 386.3L545.7 386.4L547.2 386.5L548.7 386.0L550.2 385.2L551.7 384.0L553.2 380.5L554.7 377.4L556.2 373.9L557.7 370.3L559.2 371.0L560.7 373.6L562.2 374.5L563.7 375.5L565.2 377.9L566.7 376.5L568.2 374.8L569.7 373.3L571.2 372.4L572.7 371.5L574.2 369.9L575.7 370.7L577.2 371.7L578.7 372.2L580.2 372.8L581.7 372.6L583.2 371.8L584.7 371.8L586.2 372.8L587.7 371.9L588.1 370.4" fill="none" stroke="#0c0cdc" stroke-width="2.6" stroke-linejoin="round" stroke-linecap="round"/><path d="M103.2 308.1L105.4 319.2L107.6 300.2L109.8 330.0L112.0 296.3L114.2 310.9L116.4 313.6L118.6 312.1L120.8 318.8L123.0 325.1L125.2 323.2L127.4 327.1L129.6 313.7L131.8 341.3L134.0 343.6L136.2 330.6L138.4 339.0L140.6 325.4L142.8 300.4L145.0 326.3L147.2 312.8L149.4 311.5L151.6 305.4L153.8 313.2L156.0 310.2L158.2 318.1L160.4 310.7L162.6 322.9L164.8 302.0L167.0 315.7L169.2 310.9L171.4 300.6L173.6 303.5L175.8 319.9L178.0 311.5L180.2 309.7L182.4 316.5L184.6 306.6L186.8 313.6L189.0 303.4L191.2 309.2L193.4 312.2L195.6 295.9L197.8 313.1L200.0 300.6L202.2 314.8L204.4 309.5L206.6 333.5L208.8 324.9L211.0 319.7L213.2 317.2L215.4 325.0L217.6 318.0L219.8 300.3L222.0 323.2L224.2 298.3L226.4 313.3L228.6 315.1L230.8 316.4L233.0 309.2L235.2 315.4L237.4 320.2L239.6 313.5L241.8 316.9L244.0 326.3L246.2 325.3L248.4 319.2L250.6 323.7L252.8 322.4L255.0 317.4L257.2 315.9L259.4 310.3L261.6 322.3L263.8 312.5L266.0 314.2L268.2 316.4L270.4 317.4L272.6 322.1L274.8 309.8L277.0 317.7L279.2 325.8L281.4 321.1L283.6 339.5L285.8 331.3L288.0 331.0L290.2 326.7L292.4 334.2L294.6 333.1L296.8 328.0L299.0 323.2L301.2 315.1L303.4 335.0L305.6 317.5L307.8 316.8L310.0 328.3L312.2 318.4L314.4 308.4L316.6 322.4L318.8 317.7L321.0 326.6L323.2 305.9L325.4 322.8L327.6 320.1L329.8 329.5L332.0 308.7L334.2 306.2L336.4 319.5L338.6 327.6L340.8 307.6L343.0 337.7L345.2 329.9L347.4 329.5L349.6 346.1L351.8 349.5L354.0 340.5L356.2 343.0L358.4 346.6L360.6 322.4L362.8 321.9L365.0 322.6L367.2 313.8L369.4 303.9L371.6 312.4L373.8 324.3L376.0 332.6L378.2 331.4L380.4 332.8L382.6 335.3L384.8 314.4L387.0 322.8L389.2 325.3L391.4 318.4L393.6 319.8L395.8 324.7L398.0 314.3L400.2 325.4L402.4 314.2L404.6 326.5L406.8 336.6L409.0 315.6L411.2 324.9L413.4 323.5L415.6 313.6L417.8 323.2L420.0 316.8L422.2 320.1L424.4 309.1L426.6 308.7L428.8 314.9L431.0 335.6L433.2 324.8L435.4 318.5L437.6 321.1L439.8 341.3L442.0 333.9L444.2 315.9L446.4 330.9L448.6 303.6L450.8 312.3L453.0 320.1L455.2 314.5L457.4 307.4L459.6 317.5L461.8 338.7L464.0 329.2L466.2 324.0L468.4 315.7L470.6 325.4L472.8 316.1L475.0 319.2L477.2 332.6L479.4 312.5L481.6 319.7L483.8 322.6L486.0 313.8L488.2 316.8L490.4 321.5L492.6 300.0L494.8 302.9L497.0 309.5L499.2 319.5L501.4 292.9L503.6 311.1L505.8 306.1L508.0 310.5L510.2 323.6L512.4 314.3L514.6 289.9L516.8 290.7L519.0 293.6L521.2 298.9L523.4 310.3L525.6 299.9L527.8 286.0L530.0 292.9L532.2 308.2L534.4 302.0L536.6 300.1L538.8 291.9L541.0 307.5L543.2 320.5L545.4 289.2L547.6 286.8L549.8 309.3L552.0 287.8L554.2 298.5L556.4 284.9L558.6 305.2L560.8 294.5L563.0 309.3L565.2 281.2L567.4 293.7L569.6 289.0L571.8 271.5L574.0 274.2L576.2 299.0L578.4 282.5L580.6 268.8L582.8 300.1L585.0 262.7L587.2 294.1L589.4 303.1L591.6 290.6L593.8 300.9" fill="none" stroke="#e02828" stroke-width="0.9" stroke-linejoin="round" stroke-linecap="round"/><path d="M103.2 306.2L104.7 308.2L106.2 311.1L107.7 313.9L109.2 315.0L110.7 315.4L112.2 315.1L113.7 315.2L115.2 316.3L116.7 317.6L118.2 317.6L119.7 316.5L121.2 316.2L122.7 318.9L124.2 321.3L125.7 321.8L127.2 323.5L128.7 325.3L130.2 326.3L131.7 327.8L133.2 329.1L134.7 329.6L136.2 329.1L137.7 327.7L139.2 326.7L140.7 324.3L142.2 320.3L143.7 316.7L145.2 314.0L146.7 312.0L148.2 311.5L149.7 311.3L151.2 311.4L152.7 310.9L154.2 310.1L155.7 310.5L157.2 310.9L158.7 310.9L160.2 311.9L161.7 312.5L163.2 312.6L164.7 312.6L166.2 310.3L167.7 309.2L169.2 308.7L170.7 307.7L172.2 308.0L173.7 307.9L175.2 308.5L176.7 310.1L178.2 311.5L179.7 311.9L181.2 312.6L182.7 313.4L184.2 311.9L185.7 310.6L187.2 310.0L188.7 309.2L190.2 308.3L191.7 307.6L193.2 307.0L194.7 307.2L196.2 306.6L197.7 306.3L199.2 308.9L200.7 311.4L202.2 313.6L203.7 316.4L205.2 319.2L206.7 321.7L208.2 324.0L209.7 323.0L211.2 321.1L212.7 318.7L214.2 317.1L215.7 315.0L217.2 312.1L218.7 311.4L220.2 312.1L221.7 312.3L223.2 311.2L224.7 311.2L226.2 312.6L227.7 313.4L229.2 313.4L230.7 314.9L232.2 315.6L233.7 315.9L235.2 316.8L236.7 317.2L238.2 317.6L239.7 318.9L241.2 319.1L242.7 318.7L244.2 318.8L245.7 320.0L247.2 321.4L248.7 322.4L250.2 323.1L251.7 323.4L253.2 321.6L254.7 320.0L256.2 318.8L257.7 317.2L259.2 315.6L260.7 316.0L262.2 316.1L263.7 314.5L265.2 314.9L266.7 315.7L268.2 314.4L269.7 314.6L271.2 314.9L272.7 314.1L274.2 314.1L275.7 316.5L277.2 319.5L278.7 323.0L280.2 325.4L281.7 327.8L283.2 329.7L284.7 329.2L286.2 328.6L287.7 329.2L289.2 328.8L290.7 328.5L292.2 328.6L293.7 328.9L295.2 328.3L296.7 327.7L298.2 327.3L299.7 326.5L301.2 325.7L302.7 324.9L304.2 323.8L305.7 323.5L307.2 322.7L308.7 321.1L310.2 320.3L311.7 319.0L313.2 317.9L314.7 318.8L316.2 319.5L317.7 320.0L319.2 319.9L320.7 318.7L322.2 319.7L323.7 321.0L325.2 319.7L326.7 320.0L328.2 320.5L329.7 319.1L331.2 318.9L332.7 319.5L334.2 320.4L335.7 320.3L337.2 319.4L338.7 321.7L340.2 324.1L341.7 326.2L343.2 328.9L344.7 332.1L346.2 334.7L347.7 336.2L349.2 336.7L350.7 338.5L352.2 340.0L353.7 341.0L355.2 341.0L356.7 342.5L358.2 340.3L359.7 334.6L361.2 330.2L362.7 327.2L364.2 321.7L365.7 316.8L367.2 313.6L368.7 311.8L370.2 314.0L371.7 315.7L373.2 317.8L374.7 322.4L376.2 327.3L377.7 330.1L379.2 330.5L380.7 331.1L382.2 330.2L383.7 327.9L385.2 327.5L386.7 327.2L388.2 326.8L389.7 325.8L391.2 324.0L392.7 323.1L394.2 322.7L395.7 322.4L397.2 323.1L398.7 322.8L400.2 323.5L401.7 325.9L403.2 327.2L404.7 325.6L406.2 324.3L407.7 323.9L409.2 323.4L410.7 321.7L412.2 320.1L413.7 320.3L415.2 319.1L416.7 318.0L418.2 318.5L419.7 318.8L421.2 317.7L422.7 316.5L424.2 316.0L425.7 316.2L427.2 316.4L428.7 316.9L430.2 317.7L431.7 318.8L433.2 320.9L434.7 322.0L436.2 322.5L437.7 324.3L439.2 324.8L440.7 325.9L442.2 325.5L443.7 322.7L445.2 321.7L446.7 318.2L448.2 315.0L449.7 314.2L451.2 312.5L452.7 312.1L454.2 312.6L455.7 313.4L457.2 314.5L458.7 315.5L460.2 316.6L461.7 318.1L463.2 320.2L464.7 323.0L466.2 323.7L467.7 322.7L469.2 321.7L470.7 320.1L472.2 319.1L473.7 319.2L475.2 318.8L476.7 317.3L478.2 315.8L479.7 315.5L481.2 315.3L482.7 314.2L484.2 313.2L485.7 312.5L487.2 311.8L488.7 311.2L490.2 310.8L491.7 310.3L493.2 309.5L494.7 308.1L496.2 307.0L497.7 306.7L499.2 305.8L500.7 305.5L502.2 307.3L503.7 307.8L505.2 307.6L506.7 309.6L508.2 311.5L509.7 309.7L511.2 306.5L512.7 304.3L514.2 302.6L515.7 299.2L517.2 296.9L518.7 297.5L520.2 298.0L521.7 298.3L523.2 298.3L524.7 299.5L526.2 299.9L527.7 299.3L529.2 299.2L530.7 298.0L532.2 298.0L533.7 298.8L535.2 298.3L536.7 299.6L538.2 300.5L539.7 301.9L541.2 303.2L542.7 303.6L544.2 302.9L545.7 301.4L547.2 300.1L548.7 297.7L550.2 294.7L551.7 293.7L553.2 294.2L554.7 294.5L556.2 295.3L557.7 294.7L559.2 294.7L560.7 294.4L562.2 293.7L563.7 292.0L565.2 290.6L566.7 290.3L568.2 288.6L569.7 287.2L571.2 286.8L572.7 286.7L574.2 286.9L575.7 287.2L577.2 286.1L578.7 285.6L580.2 283.9L581.7 282.0L583.2 283.0L584.7 285.8L586.2 286.8L587.7 288.2L589.2 291.0L590.7 293.7L592.2 295.6L593.4 296.9" fill="none" stroke="#eb0a10" stroke-width="2.6" stroke-linejoin="round" stroke-linecap="round"/><path d="M81.7 245.2L82.1 244.3L82.7 243.1L83.4 241.6L84.1 239.9L84.9 238.1L85.8 236.5L86.7 234.9L87.5 233.6L88.4 232.7L89.2 232.3L90.0 232.4L90.8 233.0L91.7 233.9L92.5 235.1L93.4 236.4L94.2 237.8L95.1 239.2L95.9 240.4L96.7 241.3L97.4 241.9L98.1 242.1L98.8 242.0L99.4 241.6L100.0 241.1L100.6 240.5L101.2 240.0L101.8 239.5L102.4 239.2L102.9 239.2L103.5 239.5L104.0 240.0L104.6 240.7L105.1 241.5L105.6 242.4L106.0 243.5L106.5 244.8L107.0 246.2L107.6 247.8L108.1 249.6L108.7 251.7L109.3 254.3L109.9 257.7L110.6 261.6L111.3 265.7L111.9 269.9L112.6 273.9L113.4 277.4L114.2 280.2L115.0 282.1L115.8 282.8L116.7 282.1L117.6 280.0L118.6 276.9L119.7 273.1L120.7 268.9L121.8 264.5L122.8 260.5L123.9 256.9L125.0 254.3L126.0 252.8L127.0 252.6L128.1 253.3L129.2 254.8L130.2 256.9L131.3 259.2L132.3 261.5L133.4 263.7L134.4 265.6L135.3 266.8L136.2 267.1L137.1 266.6L137.9 265.5L138.6 263.8L139.4 261.8L140.1 259.6L140.8 257.3L141.5 255.0L142.1 252.9L142.8 251.1L143.4 249.7L144.0 248.7L144.5 248.0L145.0 247.5L145.5 247.2L146.0 246.9L146.4 246.7L146.9 246.4L147.4 246.0L147.9 245.4L148.5 244.6L149.1 243.3L149.7 241.5L150.3 239.3L150.9 237.0L151.6 234.8L152.2 232.7L152.9 231.1L153.7 230.2L154.5 230.0L155.3 230.9L156.2 233.2L157.2 237.0L158.2 241.8L159.3 247.3L160.4 253.1L161.5 258.9L162.6 264.2L163.7 268.7L164.8 272.0L165.9 273.8L166.9 274.0L168.0 273.0L169.0 271.0L170.1 268.3L171.1 265.0L172.2 261.4L173.2 257.7L174.2 254.0L175.1 250.6L176.1 247.7L177.0 245.0L177.9 242.0L178.8 238.8L179.6 235.7L180.5 232.6L181.3 229.7L182.2 227.1L183.0 224.9L183.8 223.2L184.7 222.1L185.6 221.7L186.5 222.0L187.4 222.7L188.3 223.8L189.2 225.3L190.1 226.9L191.0 228.7L191.8 230.4L192.7 232.0L193.5 233.4L194.3 234.8L195.0 236.5L195.7 238.4L196.4 240.3L197.0 242.1L197.7 243.8L198.4 245.3L199.1 246.5L199.8 247.1L200.6 247.3L201.5 246.8L202.4 245.6L203.3 243.9L204.3 241.9L205.3 239.7L206.3 237.4L207.3 235.1L208.2 233.1L209.0 231.5L209.8 230.3L210.5 229.7L211.0 229.4L211.6 229.3L212.0 229.5L212.5 229.8L212.9 230.1L213.3 230.4L213.9 230.6L214.4 230.6L215.1 230.3L215.9 229.8L216.7 229.0L217.5 228.2L218.5 227.2L219.4 226.2L220.4 225.1L221.3 224.1L222.3 223.1L223.3 222.2L224.3 221.5L225.3 220.8L226.3 220.2L227.4 219.5L228.5 218.9L229.6 218.3L230.7 217.8L231.7 217.4L232.7 217.2L233.6 217.0L234.5 217.0L235.3 217.1L236.0 217.1L236.6 217.2L237.2 217.3L237.7 217.6L238.3 218.1L238.8 218.9L239.4 219.9L240.0 221.3L240.7 223.1L241.4 225.8L242.1 229.7L242.8 234.3L243.6 239.3L244.3 244.4L245.1 249.1L246.0 253.1L246.9 256.1L247.8 257.7L248.8 257.5L249.9 254.9L251.0 250.0L252.3 243.4L253.5 235.7L254.8 227.4L256.2 219.1L257.5 211.5L258.9 205.2L260.2 200.7L261.5 198.6L262.8 199.4L264.0 202.6L265.2 207.7L266.3 214.1L267.5 221.1L268.8 228.1L270.0 234.5L271.4 239.7L272.8 243.1L274.4 244.0L276.1 242.2L278.1 238.1L280.2 232.3L282.3 225.3L284.5 217.6L286.7 209.9L288.8 202.5L290.7 196.1L292.4 191.3L293.8 188.4L294.9 187.2L295.8 186.9L296.5 187.5L297.0 188.8L297.4 190.9L297.8 193.7L298.2 197.2L298.7 201.2L299.2 205.8L299.9 210.9L300.7 217.5L301.5 226.1L302.2 236.1L303.1 247.0L303.9 258.1L304.9 268.8L305.9 278.4L307.0 286.5L308.3 292.2L309.7 295.1L311.3 294.6L313.2 291.0L315.2 285.1L317.3 277.6L319.5 269.0L321.7 260.2L323.9 251.8L326.0 244.4L327.9 238.9L329.6 235.8L331.1 235.3L332.6 236.8L333.9 239.8L335.1 243.8L336.3 248.3L337.4 252.9L338.5 257.2L339.6 260.6L340.7 262.7L341.8 263.0L342.9 261.2L344.0 257.6L345.1 252.7L346.1 247.0L347.2 240.8L348.2 234.8L349.2 229.3L350.2 224.9L351.3 222.0L352.3 221.1L353.4 222.4L354.4 225.5L355.5 230.0L356.6 235.6L357.7 241.8L358.8 248.1L359.8 254.3L360.8 259.9L361.7 264.5L362.5 267.7L363.2 269.5L363.7 270.4L364.2 270.5L364.6 270.1L364.9 269.4L365.3 268.5L365.7 267.8L366.2 267.3L366.8 267.4L367.6 268.1L368.6 269.6L369.7 271.7L370.9 274.2L372.2 277.0L373.6 279.9L374.9 282.8L376.3 285.5L377.6 287.9L378.8 289.8L379.9 291.0L380.9 291.6L381.8 291.6L382.7 291.2L383.6 290.6L384.4 289.6L385.2 288.6L385.9 287.6L386.6 286.7L387.3 285.9L388.0 285.5L388.6 285.4L389.1 285.6L389.6 286.0L390.1 286.5L390.5 287.0L390.9 287.3L391.4 287.5L391.9 287.5L392.4 287.0L393.1 286.1L393.9 284.6L394.7 282.5L395.7 280.0L396.7 277.2L397.7 274.2L398.7 271.2L399.7 268.4L400.7 265.8L401.5 263.6L402.3 262.0L402.9 261.0L403.4 260.6L403.8 260.6L404.1 260.8L404.4 261.2L404.7 261.5L405.2 261.7L405.7 261.6L406.5 261.0L407.4 259.9L408.6 258.0L410.0 255.4L411.7 252.3L413.4 248.9L415.2 245.4L417.1 241.9L418.9 238.6L420.7 235.8L422.3 233.7L423.8 232.3L425.1 231.8L426.4 232.1L427.7 233.1L428.8 234.4L430.0 236.0L431.1 237.7L432.1 239.3L433.1 240.6L434.1 241.6L435.0 241.9L435.9 241.6L436.7 240.8L437.4 239.6L438.1 238.2L438.7 236.7L439.4 235.2L440.0 233.9L440.7 232.9L441.4 232.3L442.2 232.3L443.0 233.1L443.9 234.6L444.7 236.6L445.6 239.0L446.5 241.5L447.5 243.9L448.4 246.0L449.4 247.5L450.4 248.3L451.4 248.1L452.4 246.6L453.5 243.8L454.6 240.2L455.7 235.9L456.8 231.4L457.9 227.0L459.1 223.1L460.3 219.9L461.4 217.9L462.6 217.4L463.8 218.5L465.1 221.1L466.4 224.7L467.8 229.1L469.1 234.0L470.4 239.0L471.7 244.0L472.9 248.4L473.9 252.1L474.9 254.8L475.7 256.6L476.4 257.9L476.9 258.8L477.4 259.3L477.8 259.6L478.2 259.5L478.6 259.3L479.1 258.9L479.6 258.4L480.2 257.9L480.9 257.2L481.7 256.1L482.4 254.9L483.3 253.4L484.1 251.8L485.0 250.1L485.8 248.4L486.7 246.8L487.6 245.3L488.4 244.0L489.2 242.8L490.1 241.6L491.0 240.4L491.9 239.3L492.8 238.2L493.6 237.1L494.4 236.1L495.2 235.3L495.9 234.5L496.6 233.8L497.2 233.4L497.7 233.2L498.1 233.3L498.5 233.5L498.8 233.6L499.2 233.8L499.5 233.7L499.9 233.4L500.3 232.8L500.7 231.7L501.2 230.2L501.6 228.3L502.1 226.1L502.6 223.7L503.1 221.1L503.6 218.4L504.2 215.6L504.7 212.7L505.2 209.9L505.8 207.2L506.4 204.3L507.0 201.0L507.6 197.4L508.2 193.8L508.9 190.2L509.5 186.8L510.1 183.7L510.7 181.2L511.3 179.3L511.9 178.2L512.4 177.9L513.0 178.2L513.5 179.2L514.0 180.6L514.5 182.3L515.0 184.4L515.5 186.7L516.0 189.1L516.5 191.6L517.0 194.0L517.5 196.8L518.0 200.2L518.5 204.1L518.9 208.2L519.4 212.3L520.0 216.2L520.5 219.6L521.2 222.5L521.9 224.4L522.7 225.2L523.6 224.7L524.7 222.9L525.9 220.2L527.2 216.7L528.5 212.9L529.8 209.0L531.0 205.3L532.3 202.0L533.4 199.5L534.4 198.0L535.3 197.5L536.1 197.7L536.9 198.5L537.7 199.6L538.4 201.1L539.0 202.7L539.7 204.3L540.3 205.9L540.9 207.2L541.5 208.2L542.1 208.9L542.7 209.5L543.2 209.9L543.8 210.3L544.3 210.7L544.8 211.1L545.3 211.5L545.7 212.0L546.2 212.6L546.6 213.4L547.0 214.5L547.3 215.9L547.6 217.5L547.9 219.2L548.2 220.9L548.5 222.5L548.8 223.9L549.2 224.8L549.6 225.3L550.1 225.2L550.7 224.4L551.4 223.0L552.1 221.1L552.9 218.9L553.7 216.4L554.5 213.8L555.4 211.1L556.2 208.6L557.1 206.2L557.9 204.2L558.7 202.3L559.5 200.3L560.4 198.3L561.2 196.4L562.1 194.5L562.9 192.8L563.8 191.3L564.6 190.1L565.3 189.3L566.1 188.8L566.8 189.0L567.5 189.8L568.1 191.1L568.7 192.7L569.3 194.5L569.8 196.3L570.5 197.8L571.1 199.0L571.8 199.6L572.6 199.5L573.5 198.5L574.4 196.8L575.4 194.5L576.4 191.8L577.5 189.0L578.5 186.1L579.5 183.4L580.6 181.0L581.5 179.2L582.4 178.2L583.3 177.9L584.1 178.2L585.0 179.0L585.8 180.1L586.6 181.4L587.4 182.8L588.1 184.2L588.7 185.5L589.2 186.5L589.6 187.2" fill="none" stroke="#28e428" stroke-width="2.8" stroke-linejoin="round" stroke-linecap="round"/><path d="M81.7 181.1L86.2 182.7L93.3 193.4L98.4 189.3L101.5 196.4L105.6 194.4L108.7 197.4L112.7 185.2L118.9 172.9L123.0 195.4L127.0 182.1L131.1 195.4L137.3 185.2L141.8 165.2L145.4 185.2L149.5 168.8L153.6 181.1L157.7 177.0L161.8 189.3L164.9 177.4L168.9 191.3L172.0 182.1L176.1 193.4L181.2 183.1L186.3 172.9L190.0 177.0L198.6 140.2L203.1 166.8L206.8 177.0L210.0 176.6L214.1 177.3L217.8 165.0L221.2 176.6L226.4 172.6L229.4 166.4L232.9 148.6L236.6 175.6L240.7 180.1L244.7 180.7L247.8 173.2L250.9 178.7L255.0 184.2L259.0 184.8L262.7 169.5L269.3 155.2L275.4 137.8L281.9 107.2L286.0 145.0L289.7 180.7L295.8 165.4L301.0 115.3L305.0 180.7L309.1 148.6L312.2 167.4L316.3 163.4L324.4 144.6L330.6 155.2L334.7 167.4L338.8 127.6L342.5 168.8L347.2 175.9L351.2 158.6L357.4 180.6L362.5 146.3L365.5 88.1L368.6 154.5L372.7 148.4L377.2 163.7L380.9 132.4L385.0 140.2L389.0 155.5L395.2 167.8L399.3 149.4L403.0 172.5L407.4 107.1L411.5 163.7L418.1 132.0L422.8 159.6L426.9 148.4L429.9 147.3L433.6 103.4L437.7 172.9L445.3 132.0L450.4 144.3L453.4 140.2L456.5 151.4L460.2 136.1L467.7 159.6L471.9 139.9L475.7 144.0L482.3 156.0L486.1 153.1L489.9 156.0L493.7 148.4L498.1 144.0L501.3 153.1L505.7 180.7L509.5 136.1L513.3 147.4L516.5 148.4L520.9 163.6L526.0 164.5L529.8 158.8L535.5 150.3L539.8 136.1L544.0 150.3L546.9 149.0L551.2 163.6L555.0 154.1L558.3 156.0L562.6 121.8L566.4 111.4L570.2 135.1L574.0 156.0L577.2 145.5L581.6 156.0" fill="none" stroke="#4a9555" stroke-width="0.9" stroke-linejoin="round" stroke-linecap="round"/><path d="M82.1 183.7L84.1 184.8L86.1 186.2L88.1 187.4L90.1 188.0L92.1 188.7L94.1 189.5L96.1 190.2L98.1 190.7L100.1 191.0L102.1 190.6L104.1 190.1L106.1 189.5L108.1 188.6L110.1 187.9L112.1 187.7L114.1 187.2L116.1 186.7L118.1 186.5L120.1 185.9L122.1 185.7L124.1 185.6L126.1 185.6L128.1 185.5L130.1 185.9L132.1 186.1L134.1 186.4L136.1 186.3L138.1 185.2L140.1 183.9L142.1 182.8L144.1 182.3L146.1 181.4L148.1 180.7L150.1 180.2L152.1 179.5L154.1 179.2L156.1 179.8L158.1 180.4L160.1 181.3L162.1 182.4L164.1 183.2L166.1 183.6L168.1 184.0L170.1 184.6L172.1 183.9L174.1 183.3L176.1 182.7L178.1 182.4L180.1 180.8L182.1 177.9L184.1 175.4L186.1 172.8L188.1 170.5L190.1 168.5L192.1 166.6L194.1 164.9L196.1 165.1L198.1 165.3L200.1 165.2L202.1 165.4L204.1 165.6L206.1 166.1L208.1 168.0L210.1 169.8L212.1 171.8L214.1 172.7L216.1 173.2L218.1 172.4L220.1 171.1L222.1 170.6L224.1 169.9L226.1 169.7L228.1 170.5L230.1 171.1L232.1 171.4L234.1 171.8L236.1 172.1L238.1 172.4L240.1 172.5L242.1 173.0L244.1 174.8L246.1 177.1L248.1 179.5L250.1 178.9L252.1 177.2L254.1 175.8L256.1 174.2L258.1 172.0L260.1 169.3L262.1 166.9L264.1 164.5L266.1 161.4L268.1 157.4L270.1 153.5L272.1 149.5L274.1 145.3L276.1 145.7L278.1 146.9L280.1 147.8L282.1 148.8L284.1 149.9L286.1 150.4L288.1 149.0L290.1 148.1L292.1 150.6L294.1 153.0L296.1 155.5L298.1 157.9L300.1 160.2L302.1 159.4L304.1 158.3L306.1 157.3L308.1 156.3L310.1 155.2L312.1 154.4L314.1 156.8L316.1 158.9L318.1 157.9L320.1 156.4L322.1 156.2L324.1 158.2L326.1 155.9L328.1 153.6L330.1 154.1L332.1 154.6L334.1 155.3L336.1 156.4L338.1 157.4L340.1 158.1L342.1 158.8L344.1 159.9L346.1 160.8L348.1 161.6L350.1 159.5L352.1 156.9L354.1 154.3L356.1 152.7L358.1 151.4L360.1 150.7L362.1 149.2L364.1 149.1L366.1 149.6L368.1 147.7L370.1 145.2L372.1 142.9L374.1 140.5L376.1 139.1L378.1 143.8L380.1 148.5L382.1 150.7L384.1 150.9L386.1 151.3L388.1 151.7L390.1 152.0L392.1 151.8L394.1 150.9L396.1 150.7L398.1 151.6L400.1 152.4L402.1 152.5L404.1 151.7L406.1 151.2L408.1 150.4L410.1 149.7L412.1 148.9L414.1 147.3L416.1 146.3L418.1 146.0L420.1 145.2L422.1 144.2L424.1 144.3L426.1 144.9L428.1 145.4L430.1 145.6L432.1 145.7L434.1 145.3L436.1 144.8L438.1 143.8L440.1 143.2L442.1 142.9L444.1 144.0L446.1 145.5L448.1 146.9L450.1 146.7L452.1 145.9L454.1 145.4L456.1 145.3L458.1 145.4L460.1 145.9L462.1 146.1L464.1 146.5L466.1 147.1L468.1 148.0L470.1 149.1L472.1 149.2L474.1 149.7L476.1 150.2L478.1 150.2L480.1 150.2L482.1 150.1L484.1 151.1L486.1 152.4L488.1 152.9L490.1 153.8L492.1 154.6L494.1 155.2L496.1 155.2L498.1 154.3L500.1 153.3L502.1 152.8L504.1 152.5L506.1 151.9L508.1 152.8L510.1 153.7L512.1 154.6L514.1 155.6L516.1 156.2L518.1 157.1L520.1 156.5L522.1 156.2L524.1 155.9L526.1 155.1L528.1 154.2L530.1 153.4L532.1 152.9L534.1 152.7L536.1 152.4L538.1 152.0L540.1 151.6L542.1 151.5L544.1 151.1L546.1 150.7L548.1 150.6L550.1 149.5L552.1 147.8L554.1 146.4L556.1 144.9L558.1 143.3L560.1 141.7L562.1 141.3L564.1 141.0L566.1 140.4L568.1 140.0L570.1 140.1L572.1 140.4L574.1 140.9L576.1 143.5L578.1 146.2L580.1 149.0L581.4 151.0" fill="none" stroke="#176f1f" stroke-width="2.8" stroke-linejoin="round" stroke-linecap="round"/><path d="M82.1 109.1L83.4 114.2L84.6 112.2L85.9 104.5L87.2 98.4L88.4 101.2L89.7 104.3L90.9 105.7L92.2 112.6L93.5 98.0L94.7 103.8L96.0 106.1L97.3 103.1L98.5 100.4L99.8 88.0L101.1 103.0L102.3 104.0L103.6 100.3L104.9 99.8L106.1 99.7L107.4 89.9L108.6 86.6L109.9 93.1L111.2 88.1L112.4 81.0L113.7 83.5L115.0 87.2L116.2 89.0L117.5 83.1L118.8 95.8L120.0 101.3L121.3 96.6L122.5 92.9L123.8 99.1L125.1 100.9L126.3 99.1L127.6 101.6L128.9 107.4L130.1 96.4L131.4 91.7L132.7 97.0L133.9 101.7L135.2 99.6L136.5 89.7L137.7 84.3L139.0 83.9L140.2 82.4L141.5 94.0L142.8 80.9L144.0 99.6L145.3 105.2L146.6 107.7L147.8 104.9L149.1 110.5L150.4 101.3L151.6 96.0L152.9 100.9L154.1 100.1L155.4 91.4L156.7 95.4L157.9 103.2L159.2 103.7L160.5 101.7L161.7 101.3L163.0 100.8L164.3 99.1L165.5 102.1L166.8 104.2L168.1 102.5L169.3 103.4L170.6 107.3L171.8 107.2L173.1 104.0L174.4 107.4L175.6 110.5L176.9 109.0L178.2 99.8L179.4 101.8L180.7 104.6L182.0 96.7L183.2 96.4L184.5 99.0L185.7 96.4L187.0 101.0L188.3 101.3L189.5 88.9L190.8 86.0L192.1 85.8L193.3 97.8L194.6 109.5L195.9 105.1L197.1 87.4L198.4 76.8L199.7 101.1L200.9 105.7L202.2 98.6L203.4 91.0L204.7 92.6L206.0 93.8L207.2 88.9L208.5 82.9L209.8 95.0L211.0 96.7L212.3 94.0L213.6 81.9L214.8 81.0L216.1 90.4L217.3 99.2L218.6 92.2L219.9 88.2L221.1 99.3L222.4 107.7L223.7 108.4L224.9 101.1L226.2 86.6L227.5 89.1L228.7 108.1L230.0 111.8L231.3 100.1L232.5 93.0L233.8 98.2L235.0 83.9L236.3 93.4L237.6 98.2L238.8 113.6L240.1 109.2L241.4 109.2L242.6 107.4L243.9 105.5L245.2 95.5L246.4 83.9L247.7 87.1L248.9 103.3L250.2 106.4L251.5 113.6L252.7 113.5L254.0 115.8L255.3 115.5L256.5 111.3L257.8 103.4L259.1 92.6L260.3 90.3L261.6 88.7L262.9 82.9L264.1 90.2L265.4 98.0L266.6 99.8L267.9 88.3L269.2 79.9L270.4 89.4L271.7 102.0L273.0 105.7L274.2 101.0L275.5 111.5L276.8 95.2L278.0 106.1L279.3 108.2L280.5 107.6L281.8 107.0L283.1 95.0L284.3 92.1L285.6 95.9L286.9 95.9L288.1 94.3L289.4 91.4L290.7 58.4L291.9 73.1L293.2 73.7L294.5 79.0L295.7 80.8L297.0 84.8L298.2 66.6L299.5 92.5L300.8 90.4L302.0 88.6L303.3 86.0L304.6 81.9L305.8 80.6L307.1 83.9L308.4 88.5L309.6 71.7L310.9 86.9L312.1 82.8L313.4 84.8L314.7 105.4L315.9 74.6L317.2 77.4L318.5 80.6L319.7 81.8L321.0 75.1L322.3 66.6L323.5 64.5L324.8 88.2L326.1 83.1L327.3 71.1L328.6 67.4L329.8 75.4L331.1 80.9L332.4 63.5L333.6 78.7L334.9 79.0L336.2 70.2L337.4 80.5L338.7 66.6L340.0 88.7L341.2 88.6L342.5 90.1L343.7 88.6L345.0 85.9L346.3 86.6L347.5 84.8L348.8 83.3L350.1 85.4L351.3 79.2L352.6 74.7L353.9 104.4L355.1 102.0L356.4 97.2L357.7 89.8L358.9 88.7L360.2 86.6L361.4 84.8L362.7 75.8L364.0 66.8L365.2 71.9L366.5 75.2L367.8 67.7L369.0 63.3L370.3 63.3L371.6 74.9L372.8 95.9L374.1 101.6L375.3 97.5L376.6 93.8L377.9 102.3L379.1 67.6L380.4 80.6L381.7 88.8L382.9 86.5L384.2 68.6L385.5 88.0L386.7 72.4L388.0 65.1L389.3 74.3L390.5 80.5L391.8 86.1L393.0 97.1L394.3 99.0L395.6 91.4L396.8 91.9L398.1 96.6L399.4 60.4L400.6 93.2L401.9 88.9L403.2 95.7L404.4 101.4L405.7 95.0L406.9 85.3L408.2 90.6L409.5 96.2L410.7 89.0L412.0 87.0L413.3 87.3L414.5 82.0L415.8 103.4L417.1 78.9L418.3 77.1L419.6 59.4L420.9 84.6L422.1 75.0L423.4 101.3L424.6 69.2L425.9 54.5L427.2 63.7L428.4 81.5L429.7 85.4L431.0 82.7L432.2 81.2L433.5 80.6L434.8 82.6L436.0 85.8L437.3 57.4L438.5 82.5L439.8 78.7L441.1 65.5L442.3 73.0L443.6 87.1L444.9 84.9L446.1 53.3L447.4 77.2L448.7 76.7L449.9 74.7L451.2 74.7L452.5 68.6L453.7 71.5L455.0 80.8L456.2 72.9L457.5 59.0L458.8 67.1L460.0 77.2L461.3 74.3L462.6 71.9L463.8 93.2L465.1 54.3L466.4 86.1L467.6 97.2L468.9 78.5L470.1 67.6L471.4 51.9L472.7 56.3L473.9 74.5L475.2 59.4L476.5 84.5L477.7 77.1L479.0 84.5L480.3 92.2L481.5 75.8L482.8 57.9L484.1 66.1L485.3 74.7L486.6 77.7L487.8 71.9L489.1 63.6L490.4 78.6L491.6 50.1L492.9 77.2L494.2 43.3L495.4 43.0L496.7 59.6L498.0 66.4L499.2 74.5L500.5 82.3L501.7 89.9L503.0 74.9L504.3 68.0L505.5 64.9L506.8 71.0L508.1 32.7L509.3 71.7L510.6 68.9L511.9 73.3L513.1 71.0L514.4 60.2L515.7 51.7L516.9 41.9L518.2 36.1L519.4 35.6L520.7 62.1L522.0 72.0L523.2 69.3L524.5 73.0L525.8 73.2L527.0 55.2L528.3 35.3L529.6 47.8L530.8 89.9L532.1 81.3L533.3 80.9L534.6 75.1L535.9 34.7L537.1 30.9L538.4 52.6L539.7 66.0L540.9 78.7L542.2 62.1L543.5 49.6L544.7 43.4L546.0 49.1L547.3 55.7L548.5 58.4L549.8 60.3L551.0 77.7L552.3 57.8L553.6 60.4L554.8 64.1L556.1 60.9L557.4 49.0L558.6 56.3L559.9 66.0L561.2 30.4L562.4 63.0L563.7 58.2L564.9 43.4L566.2 40.0L567.5 59.6L568.7 56.7L570.0 51.6L571.3 25.7L572.5 34.2L573.8 53.8L575.1 51.4L576.3 32.8L577.6 21.0L578.9 44.9L580.1 42.9L581.4 58.4L582.6 49.8L583.9 16.4L585.2 52.4L586.4 46.7L587.7 40.9L589.0 10.5L590.2 37.0L591.5 31.0L592.8 22.1L594.0 24.9L595.3 32.2L596.5 42.0L597.8 28.2L599.1 27.8L600.3 17.5" fill="none" stroke="#9c9c9c" stroke-width="0.9" stroke-linejoin="round" stroke-linecap="round"/><path d="M82.1 106.5L83.6 105.1L85.1 104.0L86.6 104.2L88.1 103.4L89.6 103.0L91.1 102.0L92.6 101.5L94.1 101.4L95.6 102.1L97.1 102.0L98.6 100.2L100.1 99.8L101.6 99.5L103.1 99.0L104.6 98.9L106.1 99.2L107.6 99.0L109.1 99.0L110.6 98.8L112.1 98.2L113.6 98.7L115.1 98.8L116.6 97.9L118.1 97.6L119.6 97.9L121.1 98.5L122.6 98.1L124.1 97.2L125.6 97.6L127.1 97.3L128.6 96.7L130.1 97.2L131.6 97.4L133.1 97.0L134.6 97.2L136.1 96.4L137.6 96.7L139.1 97.6L140.6 96.8L142.1 97.5L143.6 98.5L145.1 98.4L146.6 98.0L148.1 98.4L149.6 98.9L151.1 99.8L152.6 100.6L154.1 100.6L155.6 101.2L157.1 101.5L158.6 101.2L160.1 101.8L161.6 102.3L163.1 102.0L164.6 101.5L166.1 101.6L167.6 101.0L169.1 101.1L170.6 102.1L172.1 101.3L173.6 100.9L175.1 100.9L176.6 100.8L178.1 100.2L179.6 99.4L181.1 99.9L182.6 100.1L184.1 98.6L185.6 97.6L187.1 97.9L188.6 97.4L190.1 97.3L191.6 96.6L193.1 95.8L194.6 95.5L196.1 95.5L197.6 95.5L199.1 94.6L200.6 93.7L202.1 94.1L203.6 94.6L205.1 94.1L206.6 94.4L208.1 94.5L209.6 94.0L211.1 93.8L212.6 93.8L214.1 94.7L215.6 94.6L217.1 94.0L218.6 94.5L220.1 94.8L221.6 95.1L223.1 94.9L224.6 94.8L226.1 95.9L227.6 97.6L229.1 98.6L230.6 98.9L232.1 99.2L233.6 99.9L235.1 100.6L236.6 101.3L238.1 101.7L239.6 102.1L241.1 102.9L242.6 103.7L244.1 104.4L245.6 105.7L247.1 106.7L248.6 107.0L250.1 105.4L251.6 104.2L253.1 104.2L254.6 104.0L256.1 103.0L257.6 102.7L259.1 103.4L260.6 102.0L262.1 100.7L263.6 100.3L265.1 100.0L266.6 99.9L268.1 100.0L269.6 99.1L271.1 98.1L272.6 97.5L274.1 97.1L275.6 96.5L277.1 95.6L278.6 94.3L280.1 93.0L281.6 92.3L283.1 92.0L284.6 91.6L286.1 90.1L287.6 88.8L289.1 88.2L290.6 87.2L292.1 85.9L293.6 86.0L295.1 86.8L296.6 86.2L298.1 84.8L299.6 84.1L301.1 84.2L302.6 85.3L304.1 86.6L305.6 87.0L307.1 87.4L308.6 88.0L310.1 88.5L311.6 87.4L313.1 86.6L314.6 86.6L316.1 86.0L317.6 85.2L319.1 84.6L320.6 84.1L322.1 84.1L323.6 83.5L325.1 82.5L326.6 82.3L328.1 82.0L329.6 81.7L331.1 80.1L332.6 79.2L334.1 79.2L335.6 79.1L337.1 80.4L338.6 81.4L340.1 82.3L341.6 82.7L343.1 83.6L344.6 84.0L346.1 83.9L347.6 84.8L349.1 85.1L350.6 86.1L352.1 87.0L353.6 87.4L355.1 87.4L356.6 86.9L358.1 87.3L359.6 88.1L361.1 88.1L362.6 87.9L364.1 88.1L365.6 88.6L367.1 88.3L368.6 88.1L370.1 88.1L371.6 87.4L373.1 87.4L374.6 87.3L376.1 87.4L377.6 87.9L379.1 87.7L380.6 87.3L382.1 87.6L383.6 87.2L385.1 86.5L386.6 86.0L388.1 85.3L389.6 85.5L391.1 85.4L392.6 85.2L394.1 85.7L395.6 85.8L397.1 85.7L398.6 84.9L400.1 84.9L401.6 84.9L403.1 84.5L404.6 84.6L406.1 84.4L407.6 84.1L409.1 83.7L410.6 83.5L412.1 82.9L413.6 82.7L415.1 82.9L416.6 83.0L418.1 83.5L419.6 82.1L421.1 81.4L422.6 81.7L424.1 80.9L425.6 80.8L427.1 80.4L428.6 79.1L430.1 78.6L431.6 78.6L433.1 78.1L434.6 77.4L436.1 77.6L437.6 78.3L439.1 77.7L440.6 77.2L442.1 77.5L443.6 77.6L445.1 78.2L446.6 78.5L448.1 77.8L449.6 77.7L451.1 78.3L452.6 79.7L454.1 79.9L455.6 79.7L457.1 80.6L458.6 81.2L460.1 82.5L461.6 82.1L463.1 81.0L464.6 80.7L466.1 80.1L467.6 79.1L469.1 78.9L470.6 78.6L472.1 77.4L473.6 76.5L475.1 75.6L476.6 75.5L478.1 75.4L479.6 74.9L481.1 74.3L482.6 73.6L484.1 72.5L485.6 71.9L487.1 71.5L488.6 70.5L490.1 69.9L491.6 69.7L493.1 68.8L494.6 67.5L496.1 67.0L497.6 67.1L499.1 66.1L500.6 64.7L502.1 64.0L503.6 63.8L505.1 62.8L506.6 62.8L508.1 64.1L509.6 64.0L511.1 64.4L512.6 65.2L514.1 64.8L515.6 64.8L517.1 64.3L518.6 63.9L520.1 64.9L521.6 64.7L523.1 64.5L524.6 64.7L526.1 64.2L527.6 64.0L529.1 62.4L530.6 61.6L532.1 62.0L533.6 61.3L535.1 60.2L536.6 60.2L538.1 59.9L539.6 58.5L541.1 57.8L542.6 58.0L544.1 57.4L545.6 56.7L547.1 56.7L548.6 56.2L550.1 55.4L551.6 55.0L553.1 55.5L554.6 56.3L556.1 56.5L557.6 56.5L559.1 55.6L560.6 54.8L562.1 54.0L563.6 53.0L565.1 52.0L566.6 51.0L568.1 50.9L569.6 50.7L571.1 50.1L572.6 50.4L574.1 50.3L575.6 49.8L577.1 48.7L578.6 46.0L580.1 44.5L581.6 43.5L583.1 41.8L584.6 41.2L586.1 40.3L587.6 38.0L589.1 37.3L590.6 36.5L592.1 35.0L593.6 33.3L595.1 30.5L596.6 29.3L598.1 27.3L599.6 24.8L600.8 24.1" fill="none" stroke="#000000" stroke-width="2.8" stroke-linejoin="round" stroke-linecap="round"/><text transform="translate(28.80 75.65) rotate(-90)" text-anchor="middle" font-size="15.50" textLength="76.45" lengthAdjust="spacingAndGlyphs" xml:space="preserve" fill="#000000">Mt. Hunter</text><text transform="translate(48.50 75.55) rotate(-90)" text-anchor="middle" font-size="15.50" textLength="122.62" lengthAdjust="spacingAndGlyphs" xml:space="preserve" fill="#000000">Accumulation (m)</text><text transform="translate(14.40 236.55) rotate(-90)" text-anchor="middle" font-size="15.50" textLength="48.83" lengthAdjust="spacingAndGlyphs" xml:space="preserve" fill="#30c830">Hawaii</text><text transform="translate(34.30 236.10) rotate(-90)" text-anchor="middle" font-size="15.50" textLength="123.52" lengthAdjust="spacingAndGlyphs" xml:space="preserve" fill="#30c830">Precipiation (mm)</text><text transform="translate(17.10 389.40) rotate(-90)" text-anchor="middle" font-size="15.50" textLength="119.18" lengthAdjust="spacingAndGlyphs" xml:space="preserve" fill="#1a1aa8">Indian Ocean SST</text><text transform="translate(34.40 386.75) rotate(-90)" text-anchor="middle" font-size="15.50" textLength="90.11" lengthAdjust="spacingAndGlyphs" xml:space="preserve" fill="#1a1aa8">Anomaly (°C)</text><text transform="translate(41.40 647.15) rotate(-90)" text-anchor="middle" font-size="15.50" textLength="105.31" lengthAdjust="spacingAndGlyphs" xml:space="preserve" fill="#6e1a66">GCM NPI Index</text><text transform="translate(653.30 152.25) rotate(-90)" text-anchor="middle" font-size="15.50" textLength="119.93" lengthAdjust="spacingAndGlyphs" xml:space="preserve" fill="#1c761c">Denali and Logan</text><text transform="translate(673.90 151.65) rotate(-90)" text-anchor="middle" font-size="15.50" textLength="123.48" lengthAdjust="spacingAndGlyphs" xml:space="preserve" fill="#1c761c">EOF1 NPI  (CNP<tspan font-size="10.23" dy="5.58">Na</tspan><tspan dy="-5.58">)</tspan></text><text transform="translate(638.60 294.70) rotate(-90)" text-anchor="middle" font-size="15.50" textLength="59.52" lengthAdjust="spacingAndGlyphs" xml:space="preserve" fill="#c81820">Western</text><text transform="translate(658.60 296.55) rotate(-90)" text-anchor="middle" font-size="15.50" textLength="71.60" lengthAdjust="spacingAndGlyphs" xml:space="preserve" fill="#c81820">Pacific SST</text><text transform="translate(678.50 295.25) rotate(-90)" text-anchor="middle" font-size="15.50" textLength="89.50" lengthAdjust="spacingAndGlyphs" xml:space="preserve" fill="#c81820">Anomaly (°C)</text><text transform="translate(656.30 531.65) rotate(-90)" text-anchor="middle" font-size="15.50" textLength="116.16" lengthAdjust="spacingAndGlyphs" xml:space="preserve" fill="#dc6a26">GCM Warm Pool</text><text transform="translate(675.30 530.65) rotate(-90)" text-anchor="middle" font-size="15.50" textLength="89.31" lengthAdjust="spacingAndGlyphs" xml:space="preserve" fill="#dc6a26">Anomaly (°C)</text></svg>
</body></html>
